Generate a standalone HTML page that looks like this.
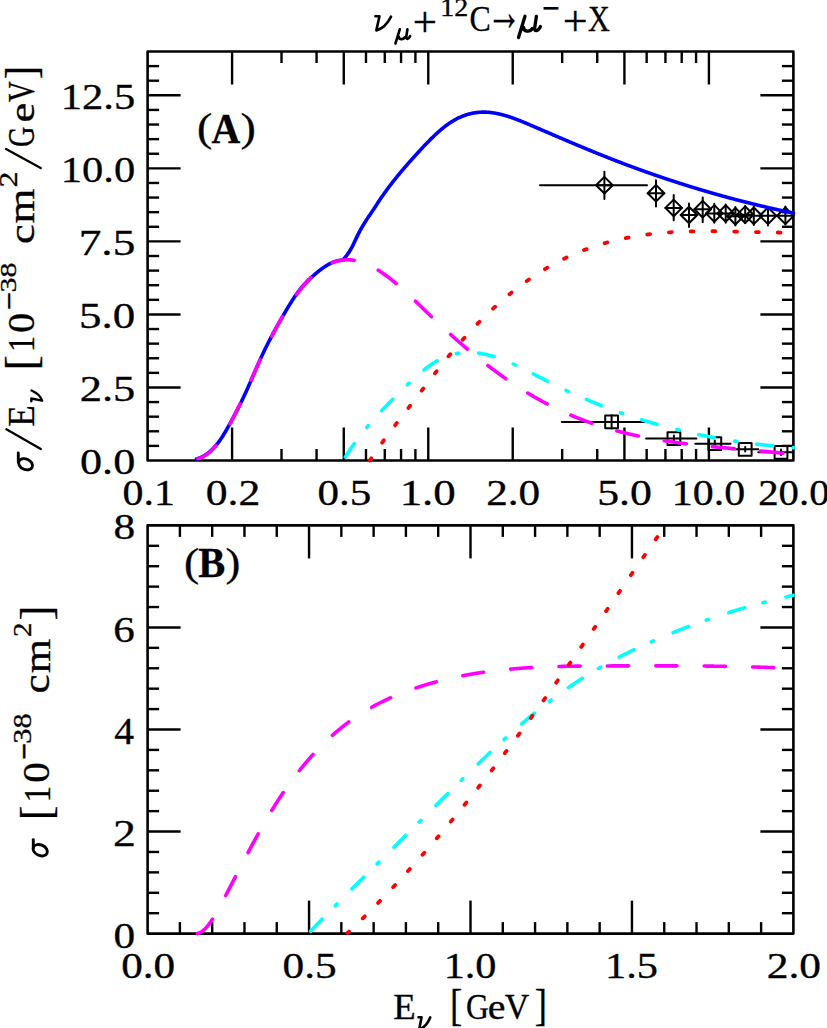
<!DOCTYPE html>
<html><head><meta charset="utf-8"><style>
html,body{margin:0;padding:0;background:#fff;}
body{width:827px;height:1028px;overflow:hidden;font-family:"Liberation Serif",serif;}
svg{display:block;}
text{font-kerning:none;stroke:#000;stroke-width:0.3px;}
</style></head><body>
<svg width="827" height="1028" viewBox="0 0 827 1028">
<rect width="827" height="1028" fill="#fff"/>
<line x1="232.09" y1="460.50" x2="232.09" y2="427.50" stroke="#000" stroke-width="2.40" stroke-linecap="butt"/>
<line x1="232.09" y1="51.50" x2="232.09" y2="84.50" stroke="#000" stroke-width="2.40" stroke-linecap="butt"/>
<line x1="281.51" y1="460.50" x2="281.51" y2="449.00" stroke="#000" stroke-width="2.40" stroke-linecap="butt"/>
<line x1="281.51" y1="51.50" x2="281.51" y2="63.00" stroke="#000" stroke-width="2.40" stroke-linecap="butt"/>
<line x1="316.57" y1="460.50" x2="316.57" y2="449.00" stroke="#000" stroke-width="2.40" stroke-linecap="butt"/>
<line x1="316.57" y1="51.50" x2="316.57" y2="63.00" stroke="#000" stroke-width="2.40" stroke-linecap="butt"/>
<line x1="343.77" y1="460.50" x2="343.77" y2="427.50" stroke="#000" stroke-width="2.40" stroke-linecap="butt"/>
<line x1="343.77" y1="51.50" x2="343.77" y2="84.50" stroke="#000" stroke-width="2.40" stroke-linecap="butt"/>
<line x1="365.99" y1="460.50" x2="365.99" y2="449.00" stroke="#000" stroke-width="2.40" stroke-linecap="butt"/>
<line x1="365.99" y1="51.50" x2="365.99" y2="63.00" stroke="#000" stroke-width="2.40" stroke-linecap="butt"/>
<line x1="384.78" y1="460.50" x2="384.78" y2="449.00" stroke="#000" stroke-width="2.40" stroke-linecap="butt"/>
<line x1="384.78" y1="51.50" x2="384.78" y2="63.00" stroke="#000" stroke-width="2.40" stroke-linecap="butt"/>
<line x1="401.06" y1="460.50" x2="401.06" y2="449.00" stroke="#000" stroke-width="2.40" stroke-linecap="butt"/>
<line x1="401.06" y1="51.50" x2="401.06" y2="63.00" stroke="#000" stroke-width="2.40" stroke-linecap="butt"/>
<line x1="415.41" y1="460.50" x2="415.41" y2="449.00" stroke="#000" stroke-width="2.40" stroke-linecap="butt"/>
<line x1="415.41" y1="51.50" x2="415.41" y2="63.00" stroke="#000" stroke-width="2.40" stroke-linecap="butt"/>
<line x1="428.26" y1="460.50" x2="428.26" y2="427.50" stroke="#000" stroke-width="2.40" stroke-linecap="butt"/>
<line x1="428.26" y1="51.50" x2="428.26" y2="84.50" stroke="#000" stroke-width="2.40" stroke-linecap="butt"/>
<line x1="512.74" y1="460.50" x2="512.74" y2="427.50" stroke="#000" stroke-width="2.40" stroke-linecap="butt"/>
<line x1="512.74" y1="51.50" x2="512.74" y2="84.50" stroke="#000" stroke-width="2.40" stroke-linecap="butt"/>
<line x1="562.16" y1="460.50" x2="562.16" y2="449.00" stroke="#000" stroke-width="2.40" stroke-linecap="butt"/>
<line x1="562.16" y1="51.50" x2="562.16" y2="63.00" stroke="#000" stroke-width="2.40" stroke-linecap="butt"/>
<line x1="597.23" y1="460.50" x2="597.23" y2="449.00" stroke="#000" stroke-width="2.40" stroke-linecap="butt"/>
<line x1="597.23" y1="51.50" x2="597.23" y2="63.00" stroke="#000" stroke-width="2.40" stroke-linecap="butt"/>
<line x1="624.43" y1="460.50" x2="624.43" y2="427.50" stroke="#000" stroke-width="2.40" stroke-linecap="butt"/>
<line x1="624.43" y1="51.50" x2="624.43" y2="84.50" stroke="#000" stroke-width="2.40" stroke-linecap="butt"/>
<line x1="646.65" y1="460.50" x2="646.65" y2="449.00" stroke="#000" stroke-width="2.40" stroke-linecap="butt"/>
<line x1="646.65" y1="51.50" x2="646.65" y2="63.00" stroke="#000" stroke-width="2.40" stroke-linecap="butt"/>
<line x1="665.44" y1="460.50" x2="665.44" y2="449.00" stroke="#000" stroke-width="2.40" stroke-linecap="butt"/>
<line x1="665.44" y1="51.50" x2="665.44" y2="63.00" stroke="#000" stroke-width="2.40" stroke-linecap="butt"/>
<line x1="681.72" y1="460.50" x2="681.72" y2="449.00" stroke="#000" stroke-width="2.40" stroke-linecap="butt"/>
<line x1="681.72" y1="51.50" x2="681.72" y2="63.00" stroke="#000" stroke-width="2.40" stroke-linecap="butt"/>
<line x1="696.07" y1="460.50" x2="696.07" y2="449.00" stroke="#000" stroke-width="2.40" stroke-linecap="butt"/>
<line x1="696.07" y1="51.50" x2="696.07" y2="63.00" stroke="#000" stroke-width="2.40" stroke-linecap="butt"/>
<line x1="708.91" y1="460.50" x2="708.91" y2="427.50" stroke="#000" stroke-width="2.40" stroke-linecap="butt"/>
<line x1="708.91" y1="51.50" x2="708.91" y2="84.50" stroke="#000" stroke-width="2.40" stroke-linecap="butt"/>
<line x1="147.60" y1="445.89" x2="159.10" y2="445.89" stroke="#000" stroke-width="2.40" stroke-linecap="butt"/>
<line x1="793.40" y1="445.89" x2="781.90" y2="445.89" stroke="#000" stroke-width="2.40" stroke-linecap="butt"/>
<line x1="147.60" y1="431.29" x2="159.10" y2="431.29" stroke="#000" stroke-width="2.40" stroke-linecap="butt"/>
<line x1="793.40" y1="431.29" x2="781.90" y2="431.29" stroke="#000" stroke-width="2.40" stroke-linecap="butt"/>
<line x1="147.60" y1="416.68" x2="159.10" y2="416.68" stroke="#000" stroke-width="2.40" stroke-linecap="butt"/>
<line x1="793.40" y1="416.68" x2="781.90" y2="416.68" stroke="#000" stroke-width="2.40" stroke-linecap="butt"/>
<line x1="147.60" y1="402.07" x2="159.10" y2="402.07" stroke="#000" stroke-width="2.40" stroke-linecap="butt"/>
<line x1="793.40" y1="402.07" x2="781.90" y2="402.07" stroke="#000" stroke-width="2.40" stroke-linecap="butt"/>
<line x1="147.60" y1="387.46" x2="180.60" y2="387.46" stroke="#000" stroke-width="2.40" stroke-linecap="butt"/>
<line x1="793.40" y1="387.46" x2="760.40" y2="387.46" stroke="#000" stroke-width="2.40" stroke-linecap="butt"/>
<line x1="147.60" y1="372.86" x2="159.10" y2="372.86" stroke="#000" stroke-width="2.40" stroke-linecap="butt"/>
<line x1="793.40" y1="372.86" x2="781.90" y2="372.86" stroke="#000" stroke-width="2.40" stroke-linecap="butt"/>
<line x1="147.60" y1="358.25" x2="159.10" y2="358.25" stroke="#000" stroke-width="2.40" stroke-linecap="butt"/>
<line x1="793.40" y1="358.25" x2="781.90" y2="358.25" stroke="#000" stroke-width="2.40" stroke-linecap="butt"/>
<line x1="147.60" y1="343.64" x2="159.10" y2="343.64" stroke="#000" stroke-width="2.40" stroke-linecap="butt"/>
<line x1="793.40" y1="343.64" x2="781.90" y2="343.64" stroke="#000" stroke-width="2.40" stroke-linecap="butt"/>
<line x1="147.60" y1="329.04" x2="159.10" y2="329.04" stroke="#000" stroke-width="2.40" stroke-linecap="butt"/>
<line x1="793.40" y1="329.04" x2="781.90" y2="329.04" stroke="#000" stroke-width="2.40" stroke-linecap="butt"/>
<line x1="147.60" y1="314.43" x2="180.60" y2="314.43" stroke="#000" stroke-width="2.40" stroke-linecap="butt"/>
<line x1="793.40" y1="314.43" x2="760.40" y2="314.43" stroke="#000" stroke-width="2.40" stroke-linecap="butt"/>
<line x1="147.60" y1="299.82" x2="159.10" y2="299.82" stroke="#000" stroke-width="2.40" stroke-linecap="butt"/>
<line x1="793.40" y1="299.82" x2="781.90" y2="299.82" stroke="#000" stroke-width="2.40" stroke-linecap="butt"/>
<line x1="147.60" y1="285.21" x2="159.10" y2="285.21" stroke="#000" stroke-width="2.40" stroke-linecap="butt"/>
<line x1="793.40" y1="285.21" x2="781.90" y2="285.21" stroke="#000" stroke-width="2.40" stroke-linecap="butt"/>
<line x1="147.60" y1="270.61" x2="159.10" y2="270.61" stroke="#000" stroke-width="2.40" stroke-linecap="butt"/>
<line x1="793.40" y1="270.61" x2="781.90" y2="270.61" stroke="#000" stroke-width="2.40" stroke-linecap="butt"/>
<line x1="147.60" y1="256.00" x2="159.10" y2="256.00" stroke="#000" stroke-width="2.40" stroke-linecap="butt"/>
<line x1="793.40" y1="256.00" x2="781.90" y2="256.00" stroke="#000" stroke-width="2.40" stroke-linecap="butt"/>
<line x1="147.60" y1="241.39" x2="180.60" y2="241.39" stroke="#000" stroke-width="2.40" stroke-linecap="butt"/>
<line x1="793.40" y1="241.39" x2="760.40" y2="241.39" stroke="#000" stroke-width="2.40" stroke-linecap="butt"/>
<line x1="147.60" y1="226.79" x2="159.10" y2="226.79" stroke="#000" stroke-width="2.40" stroke-linecap="butt"/>
<line x1="793.40" y1="226.79" x2="781.90" y2="226.79" stroke="#000" stroke-width="2.40" stroke-linecap="butt"/>
<line x1="147.60" y1="212.18" x2="159.10" y2="212.18" stroke="#000" stroke-width="2.40" stroke-linecap="butt"/>
<line x1="793.40" y1="212.18" x2="781.90" y2="212.18" stroke="#000" stroke-width="2.40" stroke-linecap="butt"/>
<line x1="147.60" y1="197.57" x2="159.10" y2="197.57" stroke="#000" stroke-width="2.40" stroke-linecap="butt"/>
<line x1="793.40" y1="197.57" x2="781.90" y2="197.57" stroke="#000" stroke-width="2.40" stroke-linecap="butt"/>
<line x1="147.60" y1="182.96" x2="159.10" y2="182.96" stroke="#000" stroke-width="2.40" stroke-linecap="butt"/>
<line x1="793.40" y1="182.96" x2="781.90" y2="182.96" stroke="#000" stroke-width="2.40" stroke-linecap="butt"/>
<line x1="147.60" y1="168.36" x2="180.60" y2="168.36" stroke="#000" stroke-width="2.40" stroke-linecap="butt"/>
<line x1="793.40" y1="168.36" x2="760.40" y2="168.36" stroke="#000" stroke-width="2.40" stroke-linecap="butt"/>
<line x1="147.60" y1="153.75" x2="159.10" y2="153.75" stroke="#000" stroke-width="2.40" stroke-linecap="butt"/>
<line x1="793.40" y1="153.75" x2="781.90" y2="153.75" stroke="#000" stroke-width="2.40" stroke-linecap="butt"/>
<line x1="147.60" y1="139.14" x2="159.10" y2="139.14" stroke="#000" stroke-width="2.40" stroke-linecap="butt"/>
<line x1="793.40" y1="139.14" x2="781.90" y2="139.14" stroke="#000" stroke-width="2.40" stroke-linecap="butt"/>
<line x1="147.60" y1="124.54" x2="159.10" y2="124.54" stroke="#000" stroke-width="2.40" stroke-linecap="butt"/>
<line x1="793.40" y1="124.54" x2="781.90" y2="124.54" stroke="#000" stroke-width="2.40" stroke-linecap="butt"/>
<line x1="147.60" y1="109.93" x2="159.10" y2="109.93" stroke="#000" stroke-width="2.40" stroke-linecap="butt"/>
<line x1="793.40" y1="109.93" x2="781.90" y2="109.93" stroke="#000" stroke-width="2.40" stroke-linecap="butt"/>
<line x1="147.60" y1="95.32" x2="180.60" y2="95.32" stroke="#000" stroke-width="2.40" stroke-linecap="butt"/>
<line x1="793.40" y1="95.32" x2="760.40" y2="95.32" stroke="#000" stroke-width="2.40" stroke-linecap="butt"/>
<line x1="147.60" y1="80.71" x2="159.10" y2="80.71" stroke="#000" stroke-width="2.40" stroke-linecap="butt"/>
<line x1="793.40" y1="80.71" x2="781.90" y2="80.71" stroke="#000" stroke-width="2.40" stroke-linecap="butt"/>
<line x1="147.60" y1="66.11" x2="159.10" y2="66.11" stroke="#000" stroke-width="2.40" stroke-linecap="butt"/>
<line x1="793.40" y1="66.11" x2="781.90" y2="66.11" stroke="#000" stroke-width="2.40" stroke-linecap="butt"/>
<rect x="147.60" y="51.50" width="645.80" height="409.00" fill="none" stroke="#000" stroke-width="2.60" stroke-linejoin="round"/>
<line x1="179.89" y1="933.60" x2="179.89" y2="922.10" stroke="#000" stroke-width="2.40" stroke-linecap="butt"/>
<line x1="179.89" y1="525.40" x2="179.89" y2="536.90" stroke="#000" stroke-width="2.40" stroke-linecap="butt"/>
<line x1="212.18" y1="933.60" x2="212.18" y2="922.10" stroke="#000" stroke-width="2.40" stroke-linecap="butt"/>
<line x1="212.18" y1="525.40" x2="212.18" y2="536.90" stroke="#000" stroke-width="2.40" stroke-linecap="butt"/>
<line x1="244.47" y1="933.60" x2="244.47" y2="922.10" stroke="#000" stroke-width="2.40" stroke-linecap="butt"/>
<line x1="244.47" y1="525.40" x2="244.47" y2="536.90" stroke="#000" stroke-width="2.40" stroke-linecap="butt"/>
<line x1="276.76" y1="933.60" x2="276.76" y2="922.10" stroke="#000" stroke-width="2.40" stroke-linecap="butt"/>
<line x1="276.76" y1="525.40" x2="276.76" y2="536.90" stroke="#000" stroke-width="2.40" stroke-linecap="butt"/>
<line x1="309.05" y1="933.60" x2="309.05" y2="900.60" stroke="#000" stroke-width="2.40" stroke-linecap="butt"/>
<line x1="309.05" y1="525.40" x2="309.05" y2="558.40" stroke="#000" stroke-width="2.40" stroke-linecap="butt"/>
<line x1="341.34" y1="933.60" x2="341.34" y2="922.10" stroke="#000" stroke-width="2.40" stroke-linecap="butt"/>
<line x1="341.34" y1="525.40" x2="341.34" y2="536.90" stroke="#000" stroke-width="2.40" stroke-linecap="butt"/>
<line x1="373.63" y1="933.60" x2="373.63" y2="922.10" stroke="#000" stroke-width="2.40" stroke-linecap="butt"/>
<line x1="373.63" y1="525.40" x2="373.63" y2="536.90" stroke="#000" stroke-width="2.40" stroke-linecap="butt"/>
<line x1="405.92" y1="933.60" x2="405.92" y2="922.10" stroke="#000" stroke-width="2.40" stroke-linecap="butt"/>
<line x1="405.92" y1="525.40" x2="405.92" y2="536.90" stroke="#000" stroke-width="2.40" stroke-linecap="butt"/>
<line x1="438.21" y1="933.60" x2="438.21" y2="922.10" stroke="#000" stroke-width="2.40" stroke-linecap="butt"/>
<line x1="438.21" y1="525.40" x2="438.21" y2="536.90" stroke="#000" stroke-width="2.40" stroke-linecap="butt"/>
<line x1="470.50" y1="933.60" x2="470.50" y2="900.60" stroke="#000" stroke-width="2.40" stroke-linecap="butt"/>
<line x1="470.50" y1="525.40" x2="470.50" y2="558.40" stroke="#000" stroke-width="2.40" stroke-linecap="butt"/>
<line x1="502.79" y1="933.60" x2="502.79" y2="922.10" stroke="#000" stroke-width="2.40" stroke-linecap="butt"/>
<line x1="502.79" y1="525.40" x2="502.79" y2="536.90" stroke="#000" stroke-width="2.40" stroke-linecap="butt"/>
<line x1="535.08" y1="933.60" x2="535.08" y2="922.10" stroke="#000" stroke-width="2.40" stroke-linecap="butt"/>
<line x1="535.08" y1="525.40" x2="535.08" y2="536.90" stroke="#000" stroke-width="2.40" stroke-linecap="butt"/>
<line x1="567.37" y1="933.60" x2="567.37" y2="922.10" stroke="#000" stroke-width="2.40" stroke-linecap="butt"/>
<line x1="567.37" y1="525.40" x2="567.37" y2="536.90" stroke="#000" stroke-width="2.40" stroke-linecap="butt"/>
<line x1="599.66" y1="933.60" x2="599.66" y2="922.10" stroke="#000" stroke-width="2.40" stroke-linecap="butt"/>
<line x1="599.66" y1="525.40" x2="599.66" y2="536.90" stroke="#000" stroke-width="2.40" stroke-linecap="butt"/>
<line x1="631.95" y1="933.60" x2="631.95" y2="900.60" stroke="#000" stroke-width="2.40" stroke-linecap="butt"/>
<line x1="631.95" y1="525.40" x2="631.95" y2="558.40" stroke="#000" stroke-width="2.40" stroke-linecap="butt"/>
<line x1="664.24" y1="933.60" x2="664.24" y2="922.10" stroke="#000" stroke-width="2.40" stroke-linecap="butt"/>
<line x1="664.24" y1="525.40" x2="664.24" y2="536.90" stroke="#000" stroke-width="2.40" stroke-linecap="butt"/>
<line x1="696.53" y1="933.60" x2="696.53" y2="922.10" stroke="#000" stroke-width="2.40" stroke-linecap="butt"/>
<line x1="696.53" y1="525.40" x2="696.53" y2="536.90" stroke="#000" stroke-width="2.40" stroke-linecap="butt"/>
<line x1="728.82" y1="933.60" x2="728.82" y2="922.10" stroke="#000" stroke-width="2.40" stroke-linecap="butt"/>
<line x1="728.82" y1="525.40" x2="728.82" y2="536.90" stroke="#000" stroke-width="2.40" stroke-linecap="butt"/>
<line x1="761.11" y1="933.60" x2="761.11" y2="922.10" stroke="#000" stroke-width="2.40" stroke-linecap="butt"/>
<line x1="761.11" y1="525.40" x2="761.11" y2="536.90" stroke="#000" stroke-width="2.40" stroke-linecap="butt"/>
<line x1="147.60" y1="913.19" x2="159.10" y2="913.19" stroke="#000" stroke-width="2.40" stroke-linecap="butt"/>
<line x1="793.40" y1="913.19" x2="781.90" y2="913.19" stroke="#000" stroke-width="2.40" stroke-linecap="butt"/>
<line x1="147.60" y1="892.78" x2="159.10" y2="892.78" stroke="#000" stroke-width="2.40" stroke-linecap="butt"/>
<line x1="793.40" y1="892.78" x2="781.90" y2="892.78" stroke="#000" stroke-width="2.40" stroke-linecap="butt"/>
<line x1="147.60" y1="872.37" x2="159.10" y2="872.37" stroke="#000" stroke-width="2.40" stroke-linecap="butt"/>
<line x1="793.40" y1="872.37" x2="781.90" y2="872.37" stroke="#000" stroke-width="2.40" stroke-linecap="butt"/>
<line x1="147.60" y1="851.96" x2="159.10" y2="851.96" stroke="#000" stroke-width="2.40" stroke-linecap="butt"/>
<line x1="793.40" y1="851.96" x2="781.90" y2="851.96" stroke="#000" stroke-width="2.40" stroke-linecap="butt"/>
<line x1="147.60" y1="831.55" x2="180.60" y2="831.55" stroke="#000" stroke-width="2.40" stroke-linecap="butt"/>
<line x1="793.40" y1="831.55" x2="760.40" y2="831.55" stroke="#000" stroke-width="2.40" stroke-linecap="butt"/>
<line x1="147.60" y1="811.14" x2="159.10" y2="811.14" stroke="#000" stroke-width="2.40" stroke-linecap="butt"/>
<line x1="793.40" y1="811.14" x2="781.90" y2="811.14" stroke="#000" stroke-width="2.40" stroke-linecap="butt"/>
<line x1="147.60" y1="790.73" x2="159.10" y2="790.73" stroke="#000" stroke-width="2.40" stroke-linecap="butt"/>
<line x1="793.40" y1="790.73" x2="781.90" y2="790.73" stroke="#000" stroke-width="2.40" stroke-linecap="butt"/>
<line x1="147.60" y1="770.32" x2="159.10" y2="770.32" stroke="#000" stroke-width="2.40" stroke-linecap="butt"/>
<line x1="793.40" y1="770.32" x2="781.90" y2="770.32" stroke="#000" stroke-width="2.40" stroke-linecap="butt"/>
<line x1="147.60" y1="749.91" x2="159.10" y2="749.91" stroke="#000" stroke-width="2.40" stroke-linecap="butt"/>
<line x1="793.40" y1="749.91" x2="781.90" y2="749.91" stroke="#000" stroke-width="2.40" stroke-linecap="butt"/>
<line x1="147.60" y1="729.50" x2="180.60" y2="729.50" stroke="#000" stroke-width="2.40" stroke-linecap="butt"/>
<line x1="793.40" y1="729.50" x2="760.40" y2="729.50" stroke="#000" stroke-width="2.40" stroke-linecap="butt"/>
<line x1="147.60" y1="709.09" x2="159.10" y2="709.09" stroke="#000" stroke-width="2.40" stroke-linecap="butt"/>
<line x1="793.40" y1="709.09" x2="781.90" y2="709.09" stroke="#000" stroke-width="2.40" stroke-linecap="butt"/>
<line x1="147.60" y1="688.68" x2="159.10" y2="688.68" stroke="#000" stroke-width="2.40" stroke-linecap="butt"/>
<line x1="793.40" y1="688.68" x2="781.90" y2="688.68" stroke="#000" stroke-width="2.40" stroke-linecap="butt"/>
<line x1="147.60" y1="668.27" x2="159.10" y2="668.27" stroke="#000" stroke-width="2.40" stroke-linecap="butt"/>
<line x1="793.40" y1="668.27" x2="781.90" y2="668.27" stroke="#000" stroke-width="2.40" stroke-linecap="butt"/>
<line x1="147.60" y1="647.86" x2="159.10" y2="647.86" stroke="#000" stroke-width="2.40" stroke-linecap="butt"/>
<line x1="793.40" y1="647.86" x2="781.90" y2="647.86" stroke="#000" stroke-width="2.40" stroke-linecap="butt"/>
<line x1="147.60" y1="627.45" x2="180.60" y2="627.45" stroke="#000" stroke-width="2.40" stroke-linecap="butt"/>
<line x1="793.40" y1="627.45" x2="760.40" y2="627.45" stroke="#000" stroke-width="2.40" stroke-linecap="butt"/>
<line x1="147.60" y1="607.04" x2="159.10" y2="607.04" stroke="#000" stroke-width="2.40" stroke-linecap="butt"/>
<line x1="793.40" y1="607.04" x2="781.90" y2="607.04" stroke="#000" stroke-width="2.40" stroke-linecap="butt"/>
<line x1="147.60" y1="586.63" x2="159.10" y2="586.63" stroke="#000" stroke-width="2.40" stroke-linecap="butt"/>
<line x1="793.40" y1="586.63" x2="781.90" y2="586.63" stroke="#000" stroke-width="2.40" stroke-linecap="butt"/>
<line x1="147.60" y1="566.22" x2="159.10" y2="566.22" stroke="#000" stroke-width="2.40" stroke-linecap="butt"/>
<line x1="793.40" y1="566.22" x2="781.90" y2="566.22" stroke="#000" stroke-width="2.40" stroke-linecap="butt"/>
<line x1="147.60" y1="545.81" x2="159.10" y2="545.81" stroke="#000" stroke-width="2.40" stroke-linecap="butt"/>
<line x1="793.40" y1="545.81" x2="781.90" y2="545.81" stroke="#000" stroke-width="2.40" stroke-linecap="butt"/>
<rect x="147.60" y="525.40" width="645.80" height="408.20" fill="none" stroke="#000" stroke-width="2.60" stroke-linejoin="round"/>
<path d="M596.10 185.20 L604.40 176.90 L612.70 185.20 L604.40 193.50 Z" fill="none" stroke="#000" stroke-width="2.00" stroke-linejoin="round"/>
<line x1="596.10" y1="185.20" x2="612.70" y2="185.20" stroke="#000" stroke-width="2.00" stroke-linecap="round"/>
<line x1="604.40" y1="171.80" x2="604.40" y2="199.00" stroke="#000" stroke-width="2.00" stroke-linecap="round"/>
<path d="M647.70 193.20 L656.00 184.90 L664.30 193.20 L656.00 201.50 Z" fill="none" stroke="#000" stroke-width="2.00" stroke-linejoin="round"/>
<line x1="647.70" y1="193.20" x2="664.30" y2="193.20" stroke="#000" stroke-width="2.00" stroke-linecap="round"/>
<line x1="656.00" y1="180.20" x2="656.00" y2="206.60" stroke="#000" stroke-width="2.00" stroke-linecap="round"/>
<path d="M665.40 207.90 L673.70 199.60 L682.00 207.90 L673.70 216.20 Z" fill="none" stroke="#000" stroke-width="2.00" stroke-linejoin="round"/>
<line x1="665.40" y1="207.90" x2="682.00" y2="207.90" stroke="#000" stroke-width="2.00" stroke-linecap="round"/>
<line x1="673.70" y1="195.00" x2="673.70" y2="220.30" stroke="#000" stroke-width="2.00" stroke-linecap="round"/>
<path d="M680.70 215.00 L689.00 206.70 L697.30 215.00 L689.00 223.30 Z" fill="none" stroke="#000" stroke-width="2.00" stroke-linejoin="round"/>
<line x1="680.70" y1="215.00" x2="697.30" y2="215.00" stroke="#000" stroke-width="2.00" stroke-linecap="round"/>
<line x1="689.00" y1="203.40" x2="689.00" y2="227.10" stroke="#000" stroke-width="2.00" stroke-linecap="round"/>
<path d="M694.40 209.20 L702.70 200.90 L711.00 209.20 L702.70 217.50 Z" fill="none" stroke="#000" stroke-width="2.00" stroke-linejoin="round"/>
<line x1="694.40" y1="209.20" x2="711.00" y2="209.20" stroke="#000" stroke-width="2.00" stroke-linecap="round"/>
<line x1="702.70" y1="197.60" x2="702.70" y2="222.20" stroke="#000" stroke-width="2.00" stroke-linecap="round"/>
<path d="M706.00 213.40 L714.30 205.10 L722.60 213.40 L714.30 221.70 Z" fill="none" stroke="#000" stroke-width="2.00" stroke-linejoin="round"/>
<line x1="706.00" y1="213.40" x2="722.60" y2="213.40" stroke="#000" stroke-width="2.00" stroke-linecap="round"/>
<line x1="714.30" y1="203.80" x2="714.30" y2="222.70" stroke="#000" stroke-width="2.00" stroke-linecap="round"/>
<path d="M717.40 213.50 L725.70 205.20 L734.00 213.50 L725.70 221.80 Z" fill="none" stroke="#000" stroke-width="2.00" stroke-linejoin="round"/>
<line x1="717.40" y1="213.50" x2="734.00" y2="213.50" stroke="#000" stroke-width="2.00" stroke-linecap="round"/>
<line x1="725.70" y1="204.40" x2="725.70" y2="222.70" stroke="#000" stroke-width="2.00" stroke-linecap="round"/>
<path d="M727.10 216.20 L735.40 207.90 L743.70 216.20 L735.40 224.50 Z" fill="none" stroke="#000" stroke-width="2.00" stroke-linejoin="round"/>
<line x1="727.10" y1="216.20" x2="743.70" y2="216.20" stroke="#000" stroke-width="2.00" stroke-linecap="round"/>
<line x1="735.40" y1="207.00" x2="735.40" y2="225.60" stroke="#000" stroke-width="2.00" stroke-linecap="round"/>
<path d="M736.90 214.70 L745.20 206.40 L753.50 214.70 L745.20 223.00 Z" fill="none" stroke="#000" stroke-width="2.00" stroke-linejoin="round"/>
<line x1="736.90" y1="214.70" x2="753.50" y2="214.70" stroke="#000" stroke-width="2.00" stroke-linecap="round"/>
<line x1="745.20" y1="206.00" x2="745.20" y2="223.30" stroke="#000" stroke-width="2.00" stroke-linecap="round"/>
<path d="M745.50 215.80 L753.80 207.50 L762.10 215.80 L753.80 224.10 Z" fill="none" stroke="#000" stroke-width="2.00" stroke-linejoin="round"/>
<line x1="745.50" y1="215.80" x2="762.10" y2="215.80" stroke="#000" stroke-width="2.00" stroke-linecap="round"/>
<line x1="753.80" y1="206.70" x2="753.80" y2="225.00" stroke="#000" stroke-width="2.00" stroke-linecap="round"/>
<path d="M759.70 215.80 L768.00 207.50 L776.30 215.80 L768.00 224.10 Z" fill="none" stroke="#000" stroke-width="2.00" stroke-linejoin="round"/>
<line x1="759.70" y1="215.80" x2="776.30" y2="215.80" stroke="#000" stroke-width="2.00" stroke-linecap="round"/>
<line x1="768.00" y1="207.50" x2="768.00" y2="225.60" stroke="#000" stroke-width="2.00" stroke-linecap="round"/>
<path d="M777.10 215.80 L785.40 207.50 L793.70 215.80 L785.40 224.10 Z" fill="none" stroke="#000" stroke-width="2.00" stroke-linejoin="round"/>
<line x1="777.10" y1="215.80" x2="793.70" y2="215.80" stroke="#000" stroke-width="2.00" stroke-linecap="round"/>
<line x1="785.40" y1="206.50" x2="785.40" y2="224.50" stroke="#000" stroke-width="2.00" stroke-linecap="round"/>
<line x1="540.00" y1="185.30" x2="647.00" y2="185.30" stroke="#000" stroke-width="2.00" stroke-linecap="round"/>
<rect x="605.20" y="415.50" width="12.80" height="12.80" fill="none" stroke="#000" stroke-width="2.00" stroke-linejoin="round"/>
<line x1="561.80" y1="421.90" x2="644.40" y2="421.90" stroke="#000" stroke-width="2.00" stroke-linecap="round"/>
<line x1="611.60" y1="415.30" x2="611.60" y2="428.50" stroke="#000" stroke-width="2.00" stroke-linecap="round"/>
<rect x="667.50" y="432.20" width="12.80" height="12.80" fill="none" stroke="#000" stroke-width="2.00" stroke-linejoin="round"/>
<line x1="646.10" y1="438.60" x2="696.40" y2="438.60" stroke="#000" stroke-width="2.00" stroke-linecap="round"/>
<line x1="673.90" y1="435.40" x2="673.90" y2="441.50" stroke="#000" stroke-width="2.00" stroke-linecap="round"/>
<rect x="708.40" y="437.30" width="12.80" height="12.80" fill="none" stroke="#000" stroke-width="2.00" stroke-linejoin="round"/>
<line x1="695.30" y1="443.70" x2="730.60" y2="443.70" stroke="#000" stroke-width="2.00" stroke-linecap="round"/>
<line x1="714.80" y1="440.50" x2="714.80" y2="446.50" stroke="#000" stroke-width="2.00" stroke-linecap="round"/>
<rect x="738.80" y="442.90" width="12.80" height="12.80" fill="none" stroke="#000" stroke-width="2.00" stroke-linejoin="round"/>
<line x1="731.00" y1="449.30" x2="758.30" y2="449.30" stroke="#000" stroke-width="2.00" stroke-linecap="round"/>
<line x1="745.20" y1="447.00" x2="745.20" y2="451.50" stroke="#000" stroke-width="2.00" stroke-linecap="round"/>
<rect x="774.60" y="445.90" width="12.80" height="12.80" fill="none" stroke="#000" stroke-width="2.00" stroke-linejoin="round"/>
<line x1="758.30" y1="452.30" x2="793.40" y2="452.30" stroke="#000" stroke-width="2.00" stroke-linecap="round"/>
<line x1="781.00" y1="449.50" x2="781.00" y2="455.00" stroke="#000" stroke-width="2.00" stroke-linecap="round"/>
<g>
<path d="M196.50 459.05 L197.00 458.89 L197.50 458.73 L198.00 458.56 L198.50 458.38 L199.00 458.19 L199.50 458.00 L200.00 457.79 L200.50 457.57 L201.00 457.35 L201.50 457.11 L202.00 456.86 L202.50 456.61 L203.00 456.34 L203.50 456.06 L204.00 455.78 L204.50 455.48 L205.00 455.17 L205.50 454.85 L206.00 454.52 L206.50 454.18 L207.00 453.82 L207.50 453.46 L208.00 453.08 L208.50 452.69 L209.00 452.29 L209.50 451.88 L210.00 451.46 L210.50 451.02 L211.00 450.57 L211.50 450.11 L212.00 449.64 L212.50 449.15 L213.00 448.65 L213.50 448.14 L214.00 447.61 L214.50 447.07 L215.00 446.51 L215.50 445.95 L216.00 445.37 L216.50 444.77 L217.00 444.16 L217.50 443.54 L218.00 442.90 L218.50 442.25 L219.00 441.58 L219.50 440.90 L220.00 440.20 L220.50 439.48 L221.00 438.76 L221.50 438.01 L222.00 437.25 L222.50 436.48 L223.00 435.69 L223.50 434.88 L224.00 434.06 L224.50 433.23 L225.00 432.38 L225.50 431.53 L226.00 430.66 L226.50 429.78 L227.00 428.90 L227.50 428.01 L228.00 427.11 L228.50 426.21 L229.00 425.31 L229.50 424.40 L230.00 423.49 L230.50 422.58 L231.00 421.66 L231.50 420.75 L232.00 419.82 L232.50 418.90 L233.00 417.97 L233.50 417.04 L234.00 416.10 L234.50 415.16 L235.00 414.21 L235.50 413.26 L236.00 412.30 L236.50 411.34 L237.00 410.38 L237.50 409.41 L238.00 408.43 L238.50 407.45 L239.00 406.46 L239.50 405.46 L240.00 404.46 L240.50 403.45 L241.00 402.44 L241.50 401.42 L242.00 400.39 L242.50 399.36 L243.00 398.31 L243.50 397.26 L244.00 396.20 L244.50 395.14 L245.00 394.06 L245.50 392.98 L246.00 391.89 L246.50 390.79 L247.00 389.68 L247.50 388.57 L248.00 387.45 L248.50 386.32 L249.00 385.19 L249.50 384.05 L250.00 382.90 L250.50 381.76 L251.00 380.61 L251.50 379.45 L252.00 378.30 L252.50 377.14 L253.00 375.98 L253.50 374.82 L254.00 373.66 L254.50 372.50 L255.00 371.35 L255.50 370.19 L256.00 369.04 L256.50 367.89 L257.00 366.74 L257.50 365.60 L258.00 364.47 L258.50 363.33 L259.00 362.21 L259.50 361.09 L260.00 359.98 L260.50 358.87 L261.00 357.78 L261.50 356.69 L262.00 355.61 L262.50 354.54 L263.00 353.48 L263.50 352.42 L264.00 351.37 L264.50 350.33 L265.00 349.30 L265.50 348.27 L266.00 347.25 L266.50 346.24 L267.00 345.24 L267.50 344.24 L268.00 343.25 L268.50 342.26 L269.00 341.28 L269.50 340.31 L270.00 339.34 L270.50 338.38 L271.00 337.42 L271.50 336.47 L272.00 335.53 L272.50 334.59 L273.00 333.65 L273.50 332.72 L274.00 331.80 L274.50 330.88 L275.00 329.96 L275.50 329.05 L276.00 328.14 L276.50 327.24 L277.00 326.34 L277.50 325.45 L278.00 324.56 L278.50 323.67 L279.00 322.79 L279.50 321.90 L280.00 321.03 L280.50 320.15 L281.00 319.28 L281.50 318.41 L282.00 317.55 L282.50 316.68 L283.00 315.82 L283.50 314.96 L284.00 314.11 L284.50 313.25 L285.00 312.40 L285.50 311.55 L286.00 310.70 L286.50 309.86 L287.00 309.02 L287.50 308.18 L288.00 307.35 L288.50 306.53 L289.00 305.71 L289.50 304.89 L290.00 304.08 L290.50 303.27 L291.00 302.47 L291.50 301.68 L292.00 300.90 L292.50 300.12 L293.00 299.35 L293.50 298.58 L294.00 297.83 L294.50 297.08 L295.00 296.34 L295.50 295.61 L296.00 294.89 L296.50 294.17 L297.00 293.47 L297.50 292.78 L298.00 292.10 L298.50 291.43 L299.00 290.77 L299.50 290.12 L300.00 289.48 L300.50 288.85 L301.00 288.24 L301.50 287.63 L302.00 287.04 L302.50 286.46 L303.00 285.88 L303.50 285.32 L304.00 284.77 L304.50 284.22 L305.00 283.69 L305.50 283.16 L306.00 282.64 L306.50 282.13 L307.00 281.62 L307.50 281.12 L308.00 280.63 L308.50 280.14 L309.00 279.66 L309.50 279.19 L310.00 278.71 L310.50 278.25 L311.00 277.79 L311.50 277.33 L312.00 276.88 L312.50 276.42 L313.00 275.98 L313.50 275.53 L314.00 275.09 L314.50 274.65 L315.00 274.22 L315.50 273.79 L316.00 273.36 L316.50 272.94 L317.00 272.52 L317.50 272.11 L318.00 271.70 L318.50 271.30 L319.00 270.90 L319.50 270.51 L320.00 270.12 L320.50 269.74 L321.00 269.36 L321.50 268.98 L322.00 268.62 L322.50 268.26 L323.00 267.90 L323.50 267.55 L324.00 267.21 L324.50 266.87 L325.00 266.54 L325.50 266.22 L326.00 265.90 L326.50 265.60 L327.00 265.29 L327.50 265.00 L328.00 264.71 L328.50 264.43 L329.00 264.16 L329.50 263.89 L330.00 263.63 L330.50 263.38 L331.00 263.14 L331.50 262.91 L332.00 262.69 L332.50 262.47 L333.00 262.26 L333.50 262.06 L334.00 261.87 L334.50 261.69 L335.00 261.52 L335.50 261.36 L336.00 261.21 L336.50 261.07 L337.00 260.93 L337.50 260.81 L338.00 260.70 L338.50 260.60 L339.00 260.50 L339.50 260.42 L340.00 260.35 L340.50 260.29 L341.00 260.24 L341.50 260.20 L342.00 260.17 L342.50 260.16 L343.00 260.15 L343.50 259.33 L344.00 258.73 L344.50 258.13 L345.00 257.52 L345.50 256.90 L346.00 256.27 L346.50 255.63 L347.00 254.97 L347.50 254.29 L348.00 253.59 L348.50 252.87 L349.00 252.13 L349.50 251.36 L350.00 250.57 L350.50 249.74 L351.00 248.88 L351.50 247.99 L352.00 247.07 L352.50 246.10 L353.00 245.10 L353.50 244.07 L354.00 243.02 L354.50 241.95 L355.00 240.88 L355.50 239.81 L356.00 238.74 L356.50 237.68 L357.00 236.64 L357.50 235.62 L358.00 234.61 L358.50 233.62 L359.00 232.65 L359.50 231.69 L360.00 230.75 L360.50 229.83 L361.00 228.93 L361.50 228.04 L362.00 227.17 L362.50 226.31 L363.00 225.47 L363.50 224.64 L364.00 223.83 L364.50 223.02 L365.00 222.22 L365.50 221.44 L366.00 220.66 L366.50 219.89 L367.00 219.13 L367.50 218.37 L368.00 217.62 L368.50 216.87 L369.00 216.13 L369.50 215.39 L370.00 214.65 L370.50 213.91 L371.00 213.18 L371.50 212.44 L372.00 211.70 L372.50 210.96 L373.00 210.21 L373.50 209.47 L374.00 208.71 L374.50 207.95 L375.00 207.19 L375.50 206.42 L376.00 205.65 L376.50 204.88 L377.00 204.11 L377.50 203.34 L378.00 202.58 L378.50 201.82 L379.00 201.07 L379.50 200.32 L380.00 199.57 L380.50 198.84 L381.00 198.10 L381.50 197.37 L382.00 196.65 L382.50 195.92 L383.00 195.21 L383.50 194.50 L384.00 193.79 L384.50 193.08 L385.00 192.38 L385.50 191.69 L386.00 191.00 L386.50 190.31 L387.00 189.63 L387.50 188.95 L388.00 188.27 L388.50 187.60 L389.00 186.93 L389.50 186.27 L390.00 185.60 L390.50 184.95 L391.00 184.29 L391.50 183.64 L392.00 183.00 L392.50 182.35 L393.00 181.71 L393.50 181.07 L394.00 180.44 L394.50 179.81 L395.00 179.18 L395.50 178.55 L396.00 177.93 L396.50 177.31 L397.00 176.70 L397.50 176.08 L398.00 175.47 L398.50 174.86 L399.00 174.26 L399.50 173.65 L400.00 173.05 L400.50 172.45 L401.00 171.86 L401.50 171.26 L402.00 170.67 L402.50 170.08 L403.00 169.49 L403.50 168.91 L404.00 168.33 L404.50 167.74 L405.00 167.16 L405.50 166.59 L406.00 166.01 L406.50 165.44 L407.00 164.86 L407.50 164.29 L408.00 163.72 L408.50 163.15 L409.00 162.59 L409.50 162.02 L410.00 161.46 L410.50 160.90 L411.00 160.33 L411.50 159.77 L412.00 159.21 L412.50 158.66 L413.00 158.10 L413.50 157.54 L414.00 156.99 L414.50 156.43 L415.00 155.88 L415.50 155.32 L416.00 154.77 L416.50 154.22 L417.00 153.67 L417.50 153.12 L418.00 152.57 L418.50 152.02 L419.00 151.48 L419.50 150.93 L420.00 150.39 L420.50 149.84 L421.00 149.30 L421.50 148.76 L422.00 148.23 L422.50 147.69 L423.00 147.15 L423.50 146.62 L424.00 146.09 L424.50 145.56 L425.00 145.03 L425.50 144.51 L426.00 143.99 L426.50 143.47 L427.00 142.95 L427.50 142.43 L428.00 141.92 L428.50 141.41 L429.00 140.90 L429.50 140.39 L430.00 139.89 L430.50 139.39 L431.00 138.89 L431.50 138.40 L432.00 137.91 L432.50 137.42 L433.00 136.94 L433.50 136.45 L434.00 135.98 L434.50 135.50 L435.00 135.03 L435.50 134.56 L436.00 134.10 L436.50 133.64 L437.00 133.18 L437.50 132.73 L438.00 132.28 L438.50 131.83 L439.00 131.39 L439.50 130.95 L440.00 130.52 L440.50 130.09 L441.00 129.67 L441.50 129.25 L442.00 128.83 L442.50 128.42 L443.00 128.01 L443.50 127.61 L444.00 127.21 L444.50 126.82 L445.00 126.43 L445.50 126.05 L446.00 125.67 L446.50 125.30 L447.00 124.93 L447.50 124.57 L448.00 124.21 L448.50 123.86 L449.00 123.51 L449.50 123.17 L450.00 122.84 L450.50 122.51 L451.00 122.18 L451.50 121.86 L452.00 121.55 L452.50 121.24 L453.00 120.94 L453.50 120.64 L454.00 120.35 L454.50 120.07 L455.00 119.79 L455.50 119.51 L456.00 119.24 L456.50 118.98 L457.00 118.72 L457.50 118.46 L458.00 118.22 L458.50 117.97 L459.00 117.73 L459.50 117.50 L460.00 117.27 L460.50 117.05 L461.00 116.83 L461.50 116.62 L462.00 116.42 L462.50 116.21 L463.00 116.02 L463.50 115.83 L464.00 115.64 L464.50 115.46 L465.00 115.28 L465.50 115.11 L466.00 114.94 L466.50 114.78 L467.00 114.63 L467.50 114.47 L468.00 114.33 L468.50 114.19 L469.00 114.05 L469.50 113.92 L470.00 113.79 L470.50 113.67 L471.00 113.55 L471.50 113.44 L472.00 113.33 L472.50 113.23 L473.00 113.13 L473.50 113.03 L474.00 112.95 L474.50 112.86 L475.00 112.78 L475.50 112.71 L476.00 112.64 L476.50 112.57 L477.00 112.51 L477.50 112.45 L478.00 112.40 L478.50 112.35 L479.00 112.31 L479.50 112.27 L480.00 112.24 L480.50 112.21 L481.00 112.18 L481.50 112.16 L482.00 112.15 L482.50 112.14 L483.00 112.13 L483.50 112.13 L484.00 112.13 L484.50 112.13 L485.00 112.14 L485.50 112.16 L486.00 112.17 L486.50 112.20 L487.00 112.22 L487.50 112.25 L488.00 112.29 L488.50 112.32 L489.00 112.37 L489.50 112.41 L490.00 112.46 L490.50 112.51 L491.00 112.57 L491.50 112.63 L492.00 112.70 L492.50 112.76 L493.00 112.83 L493.50 112.91 L494.00 112.99 L494.50 113.07 L495.00 113.15 L495.50 113.24 L496.00 113.33 L496.50 113.43 L497.00 113.53 L497.50 113.63 L498.00 113.73 L498.50 113.84 L499.00 113.95 L499.50 114.06 L500.00 114.18 L500.50 114.30 L501.00 114.42 L501.50 114.54 L502.00 114.67 L502.50 114.80 L503.00 114.93 L503.50 115.07 L504.00 115.21 L504.50 115.35 L505.00 115.49 L505.50 115.63 L506.00 115.78 L506.50 115.93 L507.00 116.08 L507.50 116.24 L508.00 116.40 L508.50 116.56 L509.00 116.72 L509.50 116.88 L510.00 117.05 L510.50 117.21 L511.00 117.38 L511.50 117.56 L512.00 117.73 L512.50 117.90 L513.00 118.08 L513.50 118.26 L514.00 118.44 L514.50 118.62 L515.00 118.81 L515.50 118.99 L516.00 119.18 L516.50 119.37 L517.00 119.56 L517.50 119.75 L518.00 119.95 L518.50 120.14 L519.00 120.34 L519.50 120.53 L520.00 120.73 L520.50 120.93 L521.00 121.13 L521.50 121.33 L522.00 121.54 L522.50 121.74 L523.00 121.94 L523.50 122.15 L524.00 122.36 L524.50 122.56 L525.00 122.77 L525.50 122.98 L526.00 123.19 L526.50 123.40 L527.00 123.61 L527.50 123.82 L528.00 124.04 L528.50 124.25 L529.00 124.46 L529.50 124.68 L530.00 124.89 L530.50 125.10 L531.00 125.32 L531.50 125.53 L532.00 125.75 L532.50 125.96 L533.00 126.18 L533.50 126.40 L534.00 126.61 L534.50 126.83 L535.00 127.04 L535.50 127.26 L536.00 127.47 L536.50 127.69 L537.00 127.90 L537.50 128.12 L538.00 128.34 L538.50 128.55 L539.00 128.77 L539.50 128.98 L540.00 129.20 L540.50 129.41 L541.00 129.63 L541.50 129.84 L542.00 130.06 L542.50 130.28 L543.00 130.49 L543.50 130.71 L544.00 130.92 L544.50 131.14 L545.00 131.35 L545.50 131.57 L546.00 131.78 L546.50 132.00 L547.00 132.21 L547.50 132.43 L548.00 132.64 L548.50 132.86 L549.00 133.07 L549.50 133.29 L550.00 133.50 L550.50 133.72 L551.00 133.93 L551.50 134.15 L552.00 134.36 L552.50 134.58 L553.00 134.79 L553.50 135.01 L554.00 135.22 L554.50 135.43 L555.00 135.65 L555.50 135.86 L556.00 136.08 L556.50 136.29 L557.00 136.50 L557.50 136.72 L558.00 136.93 L558.50 137.15 L559.00 137.36 L559.50 137.57 L560.00 137.79 L560.50 138.00 L561.00 138.21 L561.50 138.43 L562.00 138.64 L562.50 138.85 L563.00 139.07 L563.50 139.28 L564.00 139.49 L564.50 139.71 L565.00 139.92 L565.50 140.13 L566.00 140.34 L566.50 140.56 L567.00 140.77 L567.50 140.98 L568.00 141.19 L568.50 141.40 L569.00 141.62 L569.50 141.83 L570.00 142.04 L570.50 142.25 L571.00 142.46 L571.50 142.67 L572.00 142.88 L572.50 143.09 L573.00 143.31 L573.50 143.52 L574.00 143.73 L574.50 143.94 L575.00 144.15 L575.50 144.36 L576.00 144.57 L576.50 144.78 L577.00 144.99 L577.50 145.20 L578.00 145.41 L578.50 145.62 L579.00 145.82 L579.50 146.03 L580.00 146.24 L580.50 146.45 L581.00 146.66 L581.50 146.87 L582.00 147.08 L582.50 147.28 L583.00 147.49 L583.50 147.70 L584.00 147.91 L584.50 148.11 L585.00 148.32 L585.50 148.53 L586.00 148.74 L586.50 148.94 L587.00 149.15 L587.50 149.35 L588.00 149.56 L588.50 149.77 L589.00 149.97 L589.50 150.18 L590.00 150.38 L590.50 150.59 L591.00 150.79 L591.50 151.00 L592.00 151.20 L592.50 151.41 L593.00 151.61 L593.50 151.82 L594.00 152.02 L594.50 152.22 L595.00 152.43 L595.50 152.63 L596.00 152.83 L596.50 153.04 L597.00 153.24 L597.50 153.44 L598.00 153.64 L598.50 153.84 L599.00 154.05 L599.50 154.25 L600.00 154.45 L600.50 154.65 L601.00 154.85 L601.50 155.05 L602.00 155.25 L602.50 155.45 L603.00 155.65 L603.50 155.85 L604.00 156.05 L604.50 156.25 L605.00 156.45 L605.50 156.65 L606.00 156.85 L606.50 157.04 L607.00 157.24 L607.50 157.44 L608.00 157.64 L608.50 157.83 L609.00 158.03 L609.50 158.23 L610.00 158.42 L610.50 158.62 L611.00 158.82 L611.50 159.01 L612.00 159.21 L612.50 159.40 L613.00 159.60 L613.50 159.79 L614.00 159.99 L614.50 160.18 L615.00 160.37 L615.50 160.57 L616.00 160.76 L616.50 160.95 L617.00 161.15 L617.50 161.34 L618.00 161.53 L618.50 161.72 L619.00 161.91 L619.50 162.11 L620.00 162.30 L620.50 162.49 L621.00 162.68 L621.50 162.87 L622.00 163.06 L622.50 163.25 L623.00 163.44 L623.50 163.63 L624.00 163.82 L624.50 164.01 L625.00 164.19 L625.50 164.38 L626.00 164.57 L626.50 164.76 L627.00 164.95 L627.50 165.13 L628.00 165.32 L628.50 165.51 L629.00 165.69 L629.50 165.88 L630.00 166.07 L630.50 166.25 L631.00 166.44 L631.50 166.62 L632.00 166.81 L632.50 166.99 L633.00 167.18 L633.50 167.36 L634.00 167.54 L634.50 167.73 L635.00 167.91 L635.50 168.09 L636.00 168.28 L636.50 168.46 L637.00 168.64 L637.50 168.82 L638.00 169.00 L638.50 169.19 L639.00 169.37 L639.50 169.55 L640.00 169.73 L640.50 169.91 L641.00 170.09 L641.50 170.27 L642.00 170.45 L642.50 170.63 L643.00 170.81 L643.50 170.99 L644.00 171.17 L644.50 171.34 L645.00 171.52 L645.50 171.70 L646.00 171.88 L646.50 172.05 L647.00 172.23 L647.50 172.41 L648.00 172.58 L648.50 172.76 L649.00 172.94 L649.50 173.11 L650.00 173.29 L650.50 173.46 L651.00 173.64 L651.50 173.81 L652.00 173.99 L652.50 174.16 L653.00 174.34 L653.50 174.51 L654.00 174.68 L654.50 174.86 L655.00 175.03 L655.50 175.20 L656.00 175.37 L656.50 175.55 L657.00 175.72 L657.50 175.89 L658.00 176.06 L658.50 176.23 L659.00 176.40 L659.50 176.57 L660.00 176.74 L660.50 176.91 L661.00 177.08 L661.50 177.25 L662.00 177.42 L662.50 177.59 L663.00 177.76 L663.50 177.93 L664.00 178.10 L664.50 178.27 L665.00 178.43 L665.50 178.60 L666.00 178.77 L666.50 178.93 L667.00 179.10 L667.50 179.27 L668.00 179.43 L668.50 179.60 L669.00 179.77 L669.50 179.93 L670.00 180.10 L670.50 180.26 L671.00 180.43 L671.50 180.59 L672.00 180.75 L672.50 180.92 L673.00 181.08 L673.50 181.24 L674.00 181.41 L674.50 181.57 L675.00 181.73 L675.50 181.90 L676.00 182.06 L676.50 182.22 L677.00 182.38 L677.50 182.54 L678.00 182.70 L678.50 182.86 L679.00 183.02 L679.50 183.18 L680.00 183.34 L680.50 183.50 L681.00 183.66 L681.50 183.82 L682.00 183.98 L682.50 184.14 L683.00 184.30 L683.50 184.46 L684.00 184.61 L684.50 184.77 L685.00 184.93 L685.50 185.09 L686.00 185.24 L686.50 185.40 L687.00 185.56 L687.50 185.71 L688.00 185.87 L688.50 186.02 L689.00 186.18 L689.50 186.34 L690.00 186.49 L690.50 186.64 L691.00 186.80 L691.50 186.95 L692.00 187.11 L692.50 187.26 L693.00 187.41 L693.50 187.57 L694.00 187.72 L694.50 187.87 L695.00 188.02 L695.50 188.18 L696.00 188.33 L696.50 188.48 L697.00 188.63 L697.50 188.78 L698.00 188.93 L698.50 189.08 L699.00 189.23 L699.50 189.38 L700.00 189.53 L700.50 189.68 L701.00 189.83 L701.50 189.98 L702.00 190.13 L702.50 190.28 L703.00 190.43 L703.50 190.57 L704.00 190.72 L704.50 190.87 L705.00 191.02 L705.50 191.16 L706.00 191.31 L706.50 191.46 L707.00 191.60 L707.50 191.75 L708.00 191.89 L708.50 192.04 L709.00 192.18 L709.50 192.33 L710.00 192.47 L710.50 192.62 L711.00 192.76 L711.50 192.91 L712.00 193.05 L712.50 193.19 L713.00 193.34 L713.50 193.48 L714.00 193.62 L714.50 193.76 L715.00 193.91 L715.50 194.05 L716.00 194.19 L716.50 194.33 L717.00 194.47 L717.50 194.61 L718.00 194.75 L718.50 194.89 L719.00 195.03 L719.50 195.17 L720.00 195.31 L720.50 195.45 L721.00 195.59 L721.50 195.73 L722.00 195.87 L722.50 196.01 L723.00 196.14 L723.50 196.28 L724.00 196.42 L724.50 196.56 L725.00 196.69 L725.50 196.83 L726.00 196.97 L726.50 197.10 L727.00 197.24 L727.50 197.38 L728.00 197.51 L728.50 197.65 L729.00 197.78 L729.50 197.92 L730.00 198.05 L730.50 198.18 L731.00 198.32 L731.50 198.45 L732.00 198.59 L732.50 198.72 L733.00 198.85 L733.50 198.98 L734.00 199.12 L734.50 199.25 L735.00 199.38 L735.50 199.51 L736.00 199.64 L736.50 199.77 L737.00 199.91 L737.50 200.04 L738.00 200.17 L738.50 200.30 L739.00 200.43 L739.50 200.56 L740.00 200.69 L740.50 200.82 L741.00 200.94 L741.50 201.07 L742.00 201.20 L742.50 201.33 L743.00 201.46 L743.50 201.58 L744.00 201.71 L744.50 201.84 L745.00 201.97 L745.50 202.09 L746.00 202.22 L746.50 202.35 L747.00 202.47 L747.50 202.60 L748.00 202.72 L748.50 202.85 L749.00 202.97 L749.50 203.10 L750.00 203.22 L750.50 203.35 L751.00 203.47 L751.50 203.59 L752.00 203.72 L752.50 203.84 L753.00 203.96 L753.50 204.08 L754.00 204.21 L754.50 204.33 L755.00 204.45 L755.50 204.57 L756.00 204.69 L756.50 204.82 L757.00 204.94 L757.50 205.06 L758.00 205.18 L758.50 205.30 L759.00 205.42 L759.50 205.54 L760.00 205.66 L760.50 205.77 L761.00 205.89 L761.50 206.01 L762.00 206.13 L762.50 206.25 L763.00 206.37 L763.50 206.48 L764.00 206.60 L764.50 206.72 L765.00 206.84 L765.50 206.95 L766.00 207.07 L766.50 207.18 L767.00 207.30 L767.50 207.42 L768.00 207.53 L768.50 207.65 L769.00 207.76 L769.50 207.88 L770.00 207.99 L770.50 208.10 L771.00 208.22 L771.50 208.33 L772.00 208.44 L772.50 208.56 L773.00 208.67 L773.50 208.78 L774.00 208.90 L774.50 209.01 L775.00 209.12 L775.50 209.23 L776.00 209.34 L776.50 209.45 L777.00 209.56 L777.50 209.68 L778.00 209.79 L778.50 209.90 L779.00 210.01 L779.50 210.11 L780.00 210.22 L780.50 210.33 L781.00 210.44 L781.50 210.55 L782.00 210.66 L782.50 210.77 L783.00 210.88 L783.50 210.98 L784.00 211.09 L784.50 211.20 L785.00 211.30 L785.50 211.41 L786.00 211.52 L786.50 211.62 L787.00 211.73 L787.50 211.83 L788.00 211.94 L788.50 212.05 L789.00 212.15 L789.50 212.25 L790.00 212.36 L790.50 212.46 L791.00 212.57 L791.50 212.67 L792.00 212.77 L792.50 212.88 L793.00 212.98 L793.40 213.06" fill="none" stroke="#0000ff" stroke-width="3.60" stroke-linecap="round" stroke-linejoin="round"/>
<path d="M196.50 458.71 L197.00 458.66 L197.50 458.59 L198.00 458.51 L198.50 458.41 L199.00 458.29 L199.50 458.16 L200.00 458.01 L200.50 457.84 L201.00 457.66 L201.50 457.46 L202.00 457.25 L202.50 457.02 L203.00 456.78 L203.50 456.52 L204.00 456.25 L204.50 455.96 L205.00 455.66 L205.50 455.34 L206.00 455.00 L206.50 454.66 L207.00 454.29 L207.50 453.92 L208.00 453.52 L208.50 453.12 L209.00 452.70 L209.50 452.27 L210.00 451.82 L210.50 451.36 L211.00 450.88 L211.50 450.40 L212.00 449.89 L212.50 449.38 L213.00 448.85 L213.50 448.31 L214.00 447.76 L214.50 447.19 L215.00 446.61 L215.50 446.02 L216.00 445.41 L216.50 444.80 L217.00 444.17 L217.50 443.53 L218.00 442.87 L218.50 442.21 L219.00 441.53 L219.50 440.84 L220.00 440.14 L220.50 439.43 L221.00 438.70 L221.50 437.97 L222.00 437.22 L222.50 436.46 L223.00 435.69 L223.50 434.91 L224.00 434.12 L224.50 433.32 L225.00 432.51 L225.50 431.69 L226.00 430.86 L226.50 430.02 L227.00 429.16 L227.50 428.30 L228.00 427.43 L228.50 426.55 L229.00 425.65 L229.50 424.75 L230.00 423.84 L230.50 422.92 L231.00 421.99 L231.50 421.06 L232.00 420.11 L232.50 419.16 L233.00 418.19 L233.50 417.22 L234.00 416.25 L234.50 415.26 L235.00 414.27 L235.50 413.27 L236.00 412.27 L236.50 411.25 L237.00 410.24 L237.50 409.21 L238.00 408.18 L238.50 407.14 L239.00 406.10 L239.50 405.06 L240.00 404.00 L240.50 402.95 L241.00 401.89 L241.50 400.82 L242.00 399.75 L242.50 398.68 L243.00 397.60 L243.50 396.52 L244.00 395.44 L244.50 394.35 L245.00 393.26 L245.50 392.17 L246.00 391.07 L246.50 389.97 L247.00 388.87 L247.50 387.77 L248.00 386.67 L248.50 385.57 L249.00 384.46 L249.50 383.36 L250.00 382.25 L250.50 381.14 L251.00 380.04 L251.50 378.93 L252.00 377.82 L252.50 376.72 L253.00 375.61 L253.50 374.50 L254.00 373.40 L254.50 372.30 L255.00 371.20 L255.50 370.10 L256.00 369.00 L256.50 367.90 L257.00 366.81 L257.50 365.72 L258.00 364.63 L258.50 363.54 L259.00 362.46 L259.50 361.38 L260.00 360.31 L260.50 359.24 L261.00 358.17 L261.50 357.11 L262.00 356.05 L262.50 355.00 L263.00 353.95 L263.50 352.90 L264.00 351.86 L264.50 350.82 L265.00 349.79 L265.50 348.76 L266.00 347.74 L266.50 346.72 L267.00 345.70 L267.50 344.69 L268.00 343.68 L268.50 342.68 L269.00 341.68 L269.50 340.69 L270.00 339.70 L270.50 338.72 L271.00 337.74 L271.50 336.77 L272.00 335.80 L272.50 334.84 L273.00 333.88 L273.50 332.92 L274.00 331.97 L274.50 331.03 L275.00 330.09 L275.50 329.15 L276.00 328.23 L276.50 327.30 L277.00 326.38 L277.50 325.47 L278.00 324.56 L278.50 323.65 L279.00 322.76 L279.50 321.86 L280.00 320.97 L280.50 320.09 L281.00 319.21 L281.50 318.34 L282.00 317.47 L282.50 316.61 L283.00 315.76 L283.50 314.91 L284.00 314.06 L284.50 313.22 L285.00 312.39 L285.50 311.56 L286.00 310.74 L286.50 309.92 L287.00 309.11 L287.50 308.30 L288.00 307.51 L288.50 306.71 L289.00 305.92 L289.50 305.14 L290.00 304.37 L290.50 303.59 L291.00 302.83 L291.50 302.07 L292.00 301.32 L292.50 300.57 L293.00 299.83 L293.50 299.10 L294.00 298.37 L294.50 297.65 L295.00 296.93 L295.50 296.22 L296.00 295.52 L296.50 294.82 L297.00 294.13 L297.50 293.45 L298.00 292.77 L298.50 292.10 L299.00 291.43 L299.50 290.78 L300.00 290.12 L300.50 289.48 L301.00 288.84 L301.50 288.21 L302.00 287.58 L302.50 286.96 L303.00 286.35 L303.50 285.74 L304.00 285.15 L304.50 284.55 L305.00 283.97 L305.50 283.39 L306.00 282.82 L306.50 282.25 L307.00 281.70 L307.50 281.15 L308.00 280.60 L308.50 280.07 L309.00 279.54 L309.50 279.01 L310.00 278.50 L310.50 277.99 L311.00 277.49 L311.50 276.99 L312.00 276.51 L312.50 276.03 L313.00 275.56 L313.50 275.09 L314.00 274.63 L314.50 274.18 L315.00 273.74 L315.50 273.30 L316.00 272.87 L316.50 272.45 L317.00 272.04 L317.50 271.63 L318.00 271.23 L318.50 270.84 L319.00 270.45 L319.50 270.07 L320.00 269.70 L320.50 269.34 L321.00 268.98 L321.50 268.63 L322.00 268.28 L322.50 267.95 L323.00 267.62 L323.50 267.30 L324.00 266.98 L324.50 266.67 L325.00 266.37 L325.50 266.08 L326.00 265.79 L326.50 265.51 L327.00 265.23 L327.50 264.97 L328.00 264.70 L328.50 264.45 L329.00 264.20 L329.50 263.96 L330.00 263.73 L330.50 263.51 L331.00 263.29 L331.50 263.07 L332.00 262.87 L332.50 262.67 L333.00 262.48 L333.50 262.29 L334.00 262.11 L334.50 261.94 L335.00 261.77 L335.50 261.61 L336.00 261.46 L336.50 261.32 L337.00 261.18 L337.50 261.04 L338.00 260.92 L338.50 260.80 L339.00 260.69 L339.50 260.58 L340.00 260.48 L340.50 260.39 L341.00 260.30 L341.50 260.22 L342.00 260.15 L342.50 260.08 L343.00 260.02 L343.50 259.96 L344.00 259.92 L344.50 259.88 L345.00 259.84 L345.50 259.81 L346.00 259.79 L346.50 259.77 L347.00 259.76 L347.50 259.76 L348.00 259.76 L348.50 259.77 L349.00 259.79 L349.50 259.81 L350.00 259.84 L350.50 259.87 L351.00 259.91 L351.50 259.96 L352.00 260.01 L352.50 260.07 L353.00 260.14 L353.50 260.21 L354.00 260.28 L354.50 260.37 L355.00 260.45 L355.50 260.55 L356.00 260.65 L356.50 260.75 L357.00 260.86 L357.50 260.98 L358.00 261.10 L358.50 261.23 L359.00 261.36 L359.50 261.50 L360.00 261.64 L360.50 261.79 L361.00 261.95 L361.50 262.10 L362.00 262.27 L362.50 262.44 L363.00 262.61 L363.50 262.79 L364.00 262.98 L364.50 263.17 L365.00 263.36 L365.50 263.56 L366.00 263.77 L366.50 263.98 L367.00 264.19 L367.50 264.41 L368.00 264.64 L368.50 264.86 L369.00 265.10 L369.50 265.33 L370.00 265.58 L370.50 265.82 L371.00 266.07 L371.50 266.33 L372.00 266.59 L372.50 266.85 L373.00 267.12 L373.50 267.40 L374.00 267.67 L374.50 267.95 L375.00 268.24 L375.50 268.53 L376.00 268.82 L376.50 269.12 L377.00 269.42 L377.50 269.73 L378.00 270.03 L378.50 270.35 L379.00 270.66 L379.50 270.98 L380.00 271.31 L380.50 271.64 L381.00 271.97 L381.50 272.30 L382.00 272.64 L382.50 272.98 L383.00 273.33 L383.50 273.68 L384.00 274.03 L384.50 274.38 L385.00 274.74 L385.50 275.11 L386.00 275.47 L386.50 275.84 L387.00 276.21 L387.50 276.59 L388.00 276.96 L388.50 277.34 L389.00 277.73 L389.50 278.11 L390.00 278.50 L390.50 278.89 L391.00 279.29 L391.50 279.69 L392.00 280.09 L392.50 280.49 L393.00 280.90 L393.50 281.30 L394.00 281.72 L394.50 282.13 L395.00 282.54 L395.50 282.96 L396.00 283.38 L396.50 283.81 L397.00 284.23 L397.50 284.66 L398.00 285.09 L398.50 285.52 L399.00 285.95 L399.50 286.39 L400.00 286.83 L400.50 287.27 L401.00 287.71 L401.50 288.15 L402.00 288.60 L402.50 289.04 L403.00 289.49 L403.50 289.94 L404.00 290.40 L404.50 290.85 L405.00 291.31 L405.50 291.76 L406.00 292.22 L406.50 292.68 L407.00 293.14 L407.50 293.61 L408.00 294.07 L408.50 294.54 L409.00 295.00 L409.50 295.47 L410.00 295.94 L410.50 296.41 L411.00 296.89 L411.50 297.36 L412.00 297.83 L412.50 298.31 L413.00 298.78 L413.50 299.26 L414.00 299.74 L414.50 300.22 L415.00 300.69 L415.50 301.17 L416.00 301.66 L416.50 302.14 L417.00 302.62 L417.50 303.10 L418.00 303.58 L418.50 304.07 L419.00 304.55 L419.50 305.04 L420.00 305.52 L420.50 306.00 L421.00 306.49 L421.50 306.98 L422.00 307.46 L422.50 307.95 L423.00 308.43 L423.50 308.92 L424.00 309.40 L424.50 309.89 L425.00 310.38 L425.50 310.86 L426.00 311.35 L426.50 311.83 L427.00 312.32 L427.50 312.80 L428.00 313.29 L428.50 313.77 L429.00 314.26 L429.50 314.74 L430.00 315.22 L430.50 315.70 L431.00 316.19 L431.50 316.67 L432.00 317.15 L432.50 317.63 L433.00 318.11 L433.50 318.59 L434.00 319.06 L434.50 319.54 L435.00 320.02 L435.50 320.49 L436.00 320.97 L436.50 321.44 L437.00 321.91 L437.50 322.38 L438.00 322.85 L438.50 323.32 L439.00 323.79 L439.50 324.26 L440.00 324.73 L440.50 325.20 L441.00 325.66 L441.50 326.13 L442.00 326.59 L442.50 327.06 L443.00 327.52 L443.50 327.98 L444.00 328.44 L444.50 328.90 L445.00 329.36 L445.50 329.82 L446.00 330.28 L446.50 330.74 L447.00 331.19 L447.50 331.65 L448.00 332.11 L448.50 332.56 L449.00 333.01 L449.50 333.46 L450.00 333.92 L450.50 334.37 L451.00 334.82 L451.50 335.26 L452.00 335.71 L452.50 336.16 L453.00 336.61 L453.50 337.05 L454.00 337.50 L454.50 337.94 L455.00 338.38 L455.50 338.82 L456.00 339.26 L456.50 339.70 L457.00 340.14 L457.50 340.58 L458.00 341.02 L458.50 341.46 L459.00 341.89 L459.50 342.33 L460.00 342.76 L460.50 343.20 L461.00 343.63 L461.50 344.06 L462.00 344.49 L462.50 344.92 L463.00 345.35 L463.50 345.78 L464.00 346.20 L464.50 346.63 L465.00 347.06 L465.50 347.48 L466.00 347.90 L466.50 348.33 L467.00 348.75 L467.50 349.17 L468.00 349.59 L468.50 350.01 L469.00 350.43 L469.50 350.84 L470.00 351.26 L470.50 351.68 L471.00 352.09 L471.50 352.51 L472.00 352.92 L472.50 353.33 L473.00 353.74 L473.50 354.15 L474.00 354.56 L474.50 354.97 L475.00 355.38 L475.50 355.78 L476.00 356.19 L476.50 356.59 L477.00 357.00 L477.50 357.40 L478.00 357.80 L478.50 358.20 L479.00 358.60 L479.50 359.00 L480.00 359.40 L480.50 359.80 L481.00 360.20 L481.50 360.59 L482.00 360.99 L482.50 361.38 L483.00 361.77 L483.50 362.16 L484.00 362.55 L484.50 362.94 L485.00 363.33 L485.50 363.72 L486.00 364.11 L486.50 364.49 L487.00 364.88 L487.50 365.26 L488.00 365.65 L488.50 366.03 L489.00 366.41 L489.50 366.79 L490.00 367.17 L490.50 367.55 L491.00 367.93 L491.50 368.30 L492.00 368.68 L492.50 369.06 L493.00 369.43 L493.50 369.80 L494.00 370.17 L494.50 370.54 L495.00 370.91 L495.50 371.28 L496.00 371.65 L496.50 372.02 L497.00 372.39 L497.50 372.75 L498.00 373.11 L498.50 373.48 L499.00 373.84 L499.50 374.20 L500.00 374.56 L500.50 374.92 L501.00 375.28 L501.50 375.64 L502.00 375.99 L502.50 376.35 L503.00 376.70 L503.50 377.06 L504.00 377.41 L504.50 377.76 L505.00 378.11 L505.50 378.46 L506.00 378.81 L506.50 379.16 L507.00 379.50 L507.50 379.85 L508.00 380.19 L508.50 380.54 L509.00 380.88 L509.50 381.22 L510.00 381.56 L510.50 381.90 L511.00 382.24 L511.50 382.58 L512.00 382.91 L512.50 383.25 L513.00 383.58 L513.50 383.92 L514.00 384.25 L514.50 384.58 L515.00 384.91 L515.50 385.24 L516.00 385.57 L516.50 385.90 L517.00 386.22 L517.50 386.55 L518.00 386.87 L518.50 387.19 L519.00 387.52 L519.50 387.84 L520.00 388.16 L520.50 388.48 L521.00 388.80 L521.50 389.11 L522.00 389.43 L522.50 389.74 L523.00 390.06 L523.50 390.37 L524.00 390.68 L524.50 390.99 L525.00 391.30 L525.50 391.61 L526.00 391.92 L526.50 392.23 L527.00 392.53 L527.50 392.84 L528.00 393.14 L528.50 393.44 L529.00 393.74 L529.50 394.04 L530.00 394.34 L530.50 394.64 L531.00 394.94 L531.50 395.23 L532.00 395.53 L532.50 395.82 L533.00 396.12 L533.50 396.41 L534.00 396.70 L534.50 396.99 L535.00 397.28 L535.50 397.57 L536.00 397.85 L536.50 398.14 L537.00 398.42 L537.50 398.71 L538.00 398.99 L538.50 399.27 L539.00 399.55 L539.50 399.83 L540.00 400.11 L540.50 400.38 L541.00 400.66 L541.50 400.93 L542.00 401.21 L542.50 401.48 L543.00 401.75 L543.50 402.02 L544.00 402.29 L544.50 402.56 L545.00 402.82 L545.50 403.09 L546.00 403.35 L546.50 403.62 L547.00 403.88 L547.50 404.14 L548.00 404.40 L548.50 404.66 L549.00 404.92 L549.50 405.18 L550.00 405.43 L550.50 405.69 L551.00 405.94 L551.50 406.19 L552.00 406.45 L552.50 406.70 L553.00 406.95 L553.50 407.19 L554.00 407.44 L554.50 407.69 L555.00 407.93 L555.50 408.18 L556.00 408.42 L556.50 408.66 L557.00 408.90 L557.50 409.14 L558.00 409.38 L558.50 409.62 L559.00 409.85 L559.50 410.09 L560.00 410.32 L560.50 410.56 L561.00 410.79 L561.50 411.02 L562.00 411.25 L562.50 411.48 L563.00 411.71 L563.50 411.94 L564.00 412.16 L564.50 412.39 L565.00 412.61 L565.50 412.83 L566.00 413.06 L566.50 413.28 L567.00 413.50 L567.50 413.72 L568.00 413.94 L568.50 414.15 L569.00 414.37 L569.50 414.58 L570.00 414.80 L570.50 415.01 L571.00 415.22 L571.50 415.43 L572.00 415.64 L572.50 415.85 L573.00 416.06 L573.50 416.27 L574.00 416.47 L574.50 416.68 L575.00 416.88 L575.50 417.09 L576.00 417.29 L576.50 417.49 L577.00 417.69 L577.50 417.89 L578.00 418.09 L578.50 418.29 L579.00 418.49 L579.50 418.68 L580.00 418.88 L580.50 419.07 L581.00 419.26 L581.50 419.45 L582.00 419.65 L582.50 419.84 L583.00 420.03 L583.50 420.21 L584.00 420.40 L584.50 420.59 L585.00 420.77 L585.50 420.96 L586.00 421.14 L586.50 421.33 L587.00 421.51 L587.50 421.69 L588.00 421.87 L588.50 422.05 L589.00 422.23 L589.50 422.41 L590.00 422.58 L590.50 422.76 L591.00 422.93 L591.50 423.11 L592.00 423.28 L592.50 423.45 L593.00 423.62 L593.50 423.80 L594.00 423.97 L594.50 424.13 L595.00 424.30 L595.50 424.47 L596.00 424.64 L596.50 424.80 L597.00 424.97 L597.50 425.13 L598.00 425.29 L598.50 425.46 L599.00 425.62 L599.50 425.78 L600.00 425.94 L600.50 426.10 L601.00 426.26 L601.50 426.41 L602.00 426.57 L602.50 426.73 L603.00 426.88 L603.50 427.04 L604.00 427.19 L604.50 427.34 L605.00 427.49 L605.50 427.65 L606.00 427.80 L606.50 427.95 L607.00 428.09 L607.50 428.24 L608.00 428.39 L608.50 428.54 L609.00 428.68 L609.50 428.83 L610.00 428.97 L610.50 429.11 L611.00 429.26 L611.50 429.40 L612.00 429.54 L612.50 429.68 L613.00 429.82 L613.50 429.96 L614.00 430.10 L614.50 430.23 L615.00 430.37 L615.50 430.51 L616.00 430.64 L616.50 430.78 L617.00 430.91 L617.50 431.04 L618.00 431.18 L618.50 431.31 L619.00 431.44 L619.50 431.57 L620.00 431.70 L620.50 431.83 L621.00 431.96 L621.50 432.08 L622.00 432.21 L622.50 432.34 L623.00 432.46 L623.50 432.59 L624.00 432.71 L624.50 432.83 L625.00 432.96 L625.50 433.08 L626.00 433.20 L626.50 433.32 L627.00 433.44 L627.50 433.56 L628.00 433.68 L628.50 433.80 L629.00 433.91 L629.50 434.03 L630.00 434.15 L630.50 434.26 L631.00 434.38 L631.50 434.49 L632.00 434.61 L632.50 434.72 L633.00 434.83 L633.50 434.94 L634.00 435.05 L634.50 435.16 L635.00 435.27 L635.50 435.38 L636.00 435.49 L636.50 435.60 L637.00 435.71 L637.50 435.81 L638.00 435.92 L638.50 436.03 L639.00 436.13 L639.50 436.24 L640.00 436.34 L640.50 436.44 L641.00 436.54 L641.50 436.65 L642.00 436.75 L642.50 436.85 L643.00 436.95 L643.50 437.05 L644.00 437.15 L644.50 437.25 L645.00 437.35 L645.50 437.44 L646.00 437.54 L646.50 437.64 L647.00 437.73 L647.50 437.83 L648.00 437.92 L648.50 438.02 L649.00 438.11 L649.50 438.20 L650.00 438.30 L650.50 438.39 L651.00 438.48 L651.50 438.57 L652.00 438.66 L652.50 438.75 L653.00 438.84 L653.50 438.93 L654.00 439.02 L654.50 439.11 L655.00 439.19 L655.50 439.28 L656.00 439.37 L656.50 439.45 L657.00 439.54 L657.50 439.62 L658.00 439.71 L658.50 439.79 L659.00 439.88 L659.50 439.96 L660.00 440.04 L660.50 440.13 L661.00 440.21 L661.50 440.29 L662.00 440.37 L662.50 440.45 L663.00 440.53 L663.50 440.61 L664.00 440.69 L664.50 440.77 L665.00 440.84 L665.50 440.92 L666.00 441.00 L666.50 441.08 L667.00 441.15 L667.50 441.23 L668.00 441.30 L668.50 441.38 L669.00 441.45 L669.50 441.53 L670.00 441.60 L670.50 441.67 L671.00 441.75 L671.50 441.82 L672.00 441.89 L672.50 441.96 L673.00 442.04 L673.50 442.11 L674.00 442.18 L674.50 442.25 L675.00 442.32 L675.50 442.39 L676.00 442.46 L676.50 442.52 L677.00 442.59 L677.50 442.66 L678.00 442.73 L678.50 442.80 L679.00 442.86 L679.50 442.93 L680.00 442.99 L680.50 443.06 L681.00 443.13 L681.50 443.19 L682.00 443.26 L682.50 443.32 L683.00 443.38 L683.50 443.45 L684.00 443.51 L684.50 443.57 L685.00 443.64 L685.50 443.70 L686.00 443.76 L686.50 443.82 L687.00 443.88 L687.50 443.95 L688.00 444.01 L688.50 444.07 L689.00 444.13 L689.50 444.19 L690.00 444.25 L690.50 444.31 L691.00 444.36 L691.50 444.42 L692.00 444.48 L692.50 444.54 L693.00 444.60 L693.50 444.65 L694.00 444.71 L694.50 444.77 L695.00 444.83 L695.50 444.88 L696.00 444.94 L696.50 444.99 L697.00 445.05 L697.50 445.10 L698.00 445.16 L698.50 445.21 L699.00 445.27 L699.50 445.32 L700.00 445.38 L700.50 445.43 L701.00 445.49 L701.50 445.54 L702.00 445.59 L702.50 445.65 L703.00 445.70 L703.50 445.75 L704.00 445.80 L704.50 445.85 L705.00 445.91 L705.50 445.96 L706.00 446.01 L706.50 446.06 L707.00 446.11 L707.50 446.16 L708.00 446.21 L708.50 446.26 L709.00 446.31 L709.50 446.36 L710.00 446.41 L710.50 446.46 L711.00 446.51 L711.50 446.56 L712.00 446.61 L712.50 446.66 L713.00 446.71 L713.50 446.76 L714.00 446.81 L714.50 446.86 L715.00 446.90 L715.50 446.95 L716.00 447.00 L716.50 447.05 L717.00 447.09 L717.50 447.14 L718.00 447.19 L718.50 447.24 L719.00 447.28 L719.50 447.33 L720.00 447.38 L720.50 447.42 L721.00 447.47 L721.50 447.52 L722.00 447.56 L722.50 447.61 L723.00 447.66 L723.50 447.70 L724.00 447.75 L724.50 447.79 L725.00 447.84 L725.50 447.88 L726.00 447.93 L726.50 447.97 L727.00 448.02 L727.50 448.07 L728.00 448.11 L728.50 448.16 L729.00 448.20 L729.50 448.25 L730.00 448.29 L730.50 448.33 L731.00 448.38 L731.50 448.42 L732.00 448.47 L732.50 448.51 L733.00 448.56 L733.50 448.60 L734.00 448.65 L734.50 448.69 L735.00 448.73 L735.50 448.78 L736.00 448.82 L736.50 448.87 L737.00 448.91 L737.50 448.96 L738.00 449.00 L738.50 449.04 L739.00 449.09 L739.50 449.13 L740.00 449.18 L740.50 449.22 L741.00 449.26 L741.50 449.31 L742.00 449.35 L742.50 449.40 L743.00 449.44 L743.50 449.48 L744.00 449.53 L744.50 449.57 L745.00 449.62 L745.50 449.66 L746.00 449.70 L746.50 449.75 L747.00 449.79 L747.50 449.84 L748.00 449.88 L748.50 449.92 L749.00 449.97 L749.50 450.01 L750.00 450.06 L750.50 450.10 L751.00 450.15 L751.50 450.19 L752.00 450.24 L752.50 450.28 L753.00 450.32 L753.50 450.37 L754.00 450.41 L754.50 450.46 L755.00 450.50 L755.50 450.55 L756.00 450.59 L756.50 450.64 L757.00 450.68 L757.50 450.73 L758.00 450.78 L758.50 450.82 L759.00 450.87 L759.50 450.91 L760.00 450.96 L760.50 451.00 L761.00 451.05 L761.50 451.10 L762.00 451.14 L762.50 451.19 L763.00 451.24 L763.50 451.28 L764.00 451.33 L764.50 451.38 L765.00 451.42 L765.50 451.47 L766.00 451.52 L766.50 451.56 L767.00 451.61 L767.50 451.66 L768.00 451.71 L768.50 451.76 L769.00 451.80 L769.50 451.85 L770.00 451.90 L770.50 451.95 L771.00 452.00 L771.50 452.05 L772.00 452.10 L772.50 452.15 L773.00 452.19 L773.50 452.24 L774.00 452.29 L774.50 452.34 L775.00 452.39 L775.50 452.44 L776.00 452.50 L776.50 452.55 L777.00 452.60 L777.50 452.65 L778.00 452.70 L778.50 452.75 L779.00 452.80 L779.50 452.86 L780.00 452.91 L780.50 452.96 L781.00 453.01 L781.50 453.07 L782.00 453.12 L782.50 453.17 L783.00 453.23 L783.50 453.28 L784.00 453.33 L784.50 453.39 L785.00 453.44 L785.50 453.50 L786.00 453.55 L786.50 453.61 L787.00 453.66 L787.50 453.72 L788.00 453.78 L788.50 453.83 L789.00 453.89 L789.50 453.95 L790.00 454.00 L790.50 454.06 L791.00 454.12 L791.50 454.18 L792.00 454.23 L792.50 454.29 L793.00 454.35 L793.40 454.40" fill="none" stroke="#ff00ff" stroke-width="3.60" stroke-linecap="round" stroke-linejoin="round" stroke-dasharray="22.3 26.2" stroke-dashoffset="-1.50"/>
<path d="M343.50 460.10 L344.00 459.28 L344.50 458.46 L345.00 457.65 L345.50 456.85 L346.00 456.05 L346.50 455.26 L347.00 454.47 L347.50 453.69 L348.00 452.92 L348.50 452.15 L349.00 451.38 L349.50 450.62 L350.00 449.87 L350.50 449.12 L351.00 448.38 L351.50 447.65 L352.00 446.91 L352.50 446.19 L353.00 445.47 L353.50 444.75 L354.00 444.04 L354.50 443.33 L355.00 442.63 L355.50 441.94 L356.00 441.24 L356.50 440.56 L357.00 439.88 L357.50 439.20 L358.00 438.52 L358.50 437.86 L359.00 437.19 L359.50 436.53 L360.00 435.88 L360.50 435.22 L361.00 434.58 L361.50 433.93 L362.00 433.29 L362.50 432.66 L363.00 432.03 L363.50 431.40 L364.00 430.77 L364.50 430.15 L365.00 429.54 L365.50 428.93 L366.00 428.32 L366.50 427.71 L367.00 427.11 L367.50 426.51 L368.00 425.91 L368.50 425.32 L369.00 424.73 L369.50 424.14 L370.00 423.56 L370.50 422.98 L371.00 422.40 L371.50 421.83 L372.00 421.26 L372.50 420.69 L373.00 420.12 L373.50 419.56 L374.00 419.00 L374.50 418.44 L375.00 417.89 L375.50 417.33 L376.00 416.78 L376.50 416.23 L377.00 415.69 L377.50 415.14 L378.00 414.60 L378.50 414.06 L379.00 413.52 L379.50 412.98 L380.00 412.45 L380.50 411.92 L381.00 411.39 L381.50 410.86 L382.00 410.33 L382.50 409.80 L383.00 409.28 L383.50 408.76 L384.00 408.23 L384.50 407.71 L385.00 407.20 L385.50 406.68 L386.00 406.16 L386.50 405.64 L387.00 405.13 L387.50 404.62 L388.00 404.10 L388.50 403.59 L389.00 403.08 L389.50 402.57 L390.00 402.06 L390.50 401.55 L391.00 401.04 L391.50 400.54 L392.00 400.03 L392.50 399.52 L393.00 399.01 L393.50 398.51 L394.00 398.00 L394.50 397.49 L395.00 396.99 L395.50 396.48 L396.00 395.98 L396.50 395.47 L397.00 394.97 L397.50 394.46 L398.00 393.96 L398.50 393.45 L399.00 392.95 L399.50 392.45 L400.00 391.95 L400.50 391.45 L401.00 390.95 L401.50 390.45 L402.00 389.96 L402.50 389.46 L403.00 388.96 L403.50 388.47 L404.00 387.98 L404.50 387.49 L405.00 387.00 L405.50 386.51 L406.00 386.02 L406.50 385.54 L407.00 385.05 L407.50 384.57 L408.00 384.09 L408.50 383.61 L409.00 383.13 L409.50 382.66 L410.00 382.18 L410.50 381.71 L411.00 381.24 L411.50 380.77 L412.00 380.31 L412.50 379.84 L413.00 379.38 L413.50 378.93 L414.00 378.47 L414.50 378.01 L415.00 377.56 L415.50 377.11 L416.00 376.67 L416.50 376.22 L417.00 375.78 L417.50 375.34 L418.00 374.91 L418.50 374.48 L419.00 374.05 L419.50 373.62 L420.00 373.19 L420.50 372.77 L421.00 372.36 L421.50 371.94 L422.00 371.53 L422.50 371.12 L423.00 370.72 L423.50 370.31 L424.00 369.92 L424.50 369.52 L425.00 369.13 L425.50 368.74 L426.00 368.36 L426.50 367.98 L427.00 367.60 L427.50 367.23 L428.00 366.86 L428.50 366.50 L429.00 366.14 L429.50 365.78 L430.00 365.43 L430.50 365.08 L431.00 364.74 L431.50 364.40 L432.00 364.06 L432.50 363.73 L433.00 363.41 L433.50 363.08 L434.00 362.77 L434.50 362.45 L435.00 362.15 L435.50 361.84 L436.00 361.54 L436.50 361.25 L437.00 360.96 L437.50 360.68 L438.00 360.40 L438.50 360.12 L439.00 359.86 L439.50 359.59 L440.00 359.33 L440.50 359.08 L441.00 358.83 L441.50 358.59 L442.00 358.35 L442.50 358.12 L443.00 357.89 L443.50 357.67 L444.00 357.45 L444.50 357.24 L445.00 357.03 L445.50 356.83 L446.00 356.63 L446.50 356.44 L447.00 356.25 L447.50 356.07 L448.00 355.89 L448.50 355.72 L449.00 355.55 L449.50 355.39 L450.00 355.23 L450.50 355.07 L451.00 354.92 L451.50 354.78 L452.00 354.64 L452.50 354.50 L453.00 354.37 L453.50 354.25 L454.00 354.12 L454.50 354.01 L455.00 353.89 L455.50 353.78 L456.00 353.68 L456.50 353.58 L457.00 353.48 L457.50 353.39 L458.00 353.30 L458.50 353.22 L459.00 353.14 L459.50 353.07 L460.00 353.00 L460.50 352.93 L461.00 352.87 L461.50 352.81 L462.00 352.76 L462.50 352.71 L463.00 352.66 L463.50 352.62 L464.00 352.58 L464.50 352.55 L465.00 352.52 L465.50 352.49 L466.00 352.47 L466.50 352.45 L467.00 352.44 L467.50 352.43 L468.00 352.42 L468.50 352.42 L469.00 352.42 L469.50 352.42 L470.00 352.43 L470.50 352.44 L471.00 352.46 L471.50 352.48 L472.00 352.50 L472.50 352.53 L473.00 352.56 L473.50 352.59 L474.00 352.63 L474.50 352.67 L475.00 352.71 L475.50 352.76 L476.00 352.80 L476.50 352.86 L477.00 352.91 L477.50 352.97 L478.00 353.04 L478.50 353.10 L479.00 353.17 L479.50 353.25 L480.00 353.32 L480.50 353.40 L481.00 353.48 L481.50 353.57 L482.00 353.65 L482.50 353.75 L483.00 353.84 L483.50 353.94 L484.00 354.04 L484.50 354.14 L485.00 354.24 L485.50 354.35 L486.00 354.46 L486.50 354.58 L487.00 354.69 L487.50 354.81 L488.00 354.94 L488.50 355.06 L489.00 355.19 L489.50 355.32 L490.00 355.45 L490.50 355.59 L491.00 355.72 L491.50 355.87 L492.00 356.01 L492.50 356.15 L493.00 356.30 L493.50 356.45 L494.00 356.60 L494.50 356.76 L495.00 356.92 L495.50 357.08 L496.00 357.24 L496.50 357.40 L497.00 357.57 L497.50 357.74 L498.00 357.91 L498.50 358.08 L499.00 358.26 L499.50 358.43 L500.00 358.61 L500.50 358.79 L501.00 358.98 L501.50 359.16 L502.00 359.35 L502.50 359.54 L503.00 359.73 L503.50 359.92 L504.00 360.12 L504.50 360.32 L505.00 360.51 L505.50 360.72 L506.00 360.92 L506.50 361.12 L507.00 361.33 L507.50 361.53 L508.00 361.74 L508.50 361.95 L509.00 362.17 L509.50 362.38 L510.00 362.60 L510.50 362.81 L511.00 363.03 L511.50 363.25 L512.00 363.47 L512.50 363.69 L513.00 363.92 L513.50 364.14 L514.00 364.37 L514.50 364.60 L515.00 364.83 L515.50 365.06 L516.00 365.29 L516.50 365.52 L517.00 365.76 L517.50 365.99 L518.00 366.23 L518.50 366.47 L519.00 366.71 L519.50 366.95 L520.00 367.19 L520.50 367.43 L521.00 367.67 L521.50 367.91 L522.00 368.16 L522.50 368.40 L523.00 368.65 L523.50 368.90 L524.00 369.15 L524.50 369.40 L525.00 369.64 L525.50 369.89 L526.00 370.15 L526.50 370.40 L527.00 370.65 L527.50 370.90 L528.00 371.16 L528.50 371.41 L529.00 371.66 L529.50 371.92 L530.00 372.18 L530.50 372.43 L531.00 372.69 L531.50 372.95 L532.00 373.20 L532.50 373.46 L533.00 373.72 L533.50 373.98 L534.00 374.24 L534.50 374.49 L535.00 374.75 L535.50 375.01 L536.00 375.27 L536.50 375.53 L537.00 375.79 L537.50 376.05 L538.00 376.31 L538.50 376.57 L539.00 376.83 L539.50 377.09 L540.00 377.35 L540.50 377.61 L541.00 377.87 L541.50 378.13 L542.00 378.39 L542.50 378.65 L543.00 378.91 L543.50 379.17 L544.00 379.43 L544.50 379.69 L545.00 379.94 L545.50 380.20 L546.00 380.46 L546.50 380.72 L547.00 380.97 L547.50 381.23 L548.00 381.49 L548.50 381.74 L549.00 382.00 L549.50 382.25 L550.00 382.50 L550.50 382.76 L551.00 383.01 L551.50 383.26 L552.00 383.51 L552.50 383.76 L553.00 384.01 L553.50 384.26 L554.00 384.51 L554.50 384.76 L555.00 385.01 L555.50 385.26 L556.00 385.50 L556.50 385.75 L557.00 386.00 L557.50 386.24 L558.00 386.49 L558.50 386.73 L559.00 386.97 L559.50 387.22 L560.00 387.46 L560.50 387.70 L561.00 387.94 L561.50 388.18 L562.00 388.42 L562.50 388.66 L563.00 388.90 L563.50 389.14 L564.00 389.38 L564.50 389.61 L565.00 389.85 L565.50 390.08 L566.00 390.32 L566.50 390.56 L567.00 390.79 L567.50 391.02 L568.00 391.26 L568.50 391.49 L569.00 391.72 L569.50 391.95 L570.00 392.18 L570.50 392.41 L571.00 392.64 L571.50 392.87 L572.00 393.10 L572.50 393.33 L573.00 393.56 L573.50 393.78 L574.00 394.01 L574.50 394.24 L575.00 394.46 L575.50 394.69 L576.00 394.91 L576.50 395.13 L577.00 395.36 L577.50 395.58 L578.00 395.80 L578.50 396.02 L579.00 396.24 L579.50 396.46 L580.00 396.68 L580.50 396.90 L581.00 397.12 L581.50 397.34 L582.00 397.56 L582.50 397.78 L583.00 397.99 L583.50 398.21 L584.00 398.42 L584.50 398.64 L585.00 398.85 L585.50 399.07 L586.00 399.28 L586.50 399.49 L587.00 399.70 L587.50 399.92 L588.00 400.13 L588.50 400.34 L589.00 400.55 L589.50 400.76 L590.00 400.97 L590.50 401.17 L591.00 401.38 L591.50 401.59 L592.00 401.80 L592.50 402.00 L593.00 402.21 L593.50 402.41 L594.00 402.62 L594.50 402.82 L595.00 403.03 L595.50 403.23 L596.00 403.43 L596.50 403.63 L597.00 403.83 L597.50 404.04 L598.00 404.24 L598.50 404.44 L599.00 404.64 L599.50 404.83 L600.00 405.03 L600.50 405.23 L601.00 405.43 L601.50 405.62 L602.00 405.82 L602.50 406.02 L603.00 406.21 L603.50 406.41 L604.00 406.60 L604.50 406.79 L605.00 406.99 L605.50 407.18 L606.00 407.37 L606.50 407.56 L607.00 407.75 L607.50 407.94 L608.00 408.13 L608.50 408.32 L609.00 408.51 L609.50 408.70 L610.00 408.89 L610.50 409.08 L611.00 409.26 L611.50 409.45 L612.00 409.63 L612.50 409.82 L613.00 410.00 L613.50 410.19 L614.00 410.37 L614.50 410.56 L615.00 410.74 L615.50 410.92 L616.00 411.10 L616.50 411.28 L617.00 411.46 L617.50 411.64 L618.00 411.82 L618.50 412.00 L619.00 412.18 L619.50 412.36 L620.00 412.54 L620.50 412.71 L621.00 412.89 L621.50 413.07 L622.00 413.24 L622.50 413.42 L623.00 413.59 L623.50 413.77 L624.00 413.94 L624.50 414.11 L625.00 414.29 L625.50 414.46 L626.00 414.63 L626.50 414.80 L627.00 414.97 L627.50 415.14 L628.00 415.31 L628.50 415.48 L629.00 415.65 L629.50 415.82 L630.00 415.99 L630.50 416.15 L631.00 416.32 L631.50 416.49 L632.00 416.65 L632.50 416.82 L633.00 416.98 L633.50 417.15 L634.00 417.31 L634.50 417.47 L635.00 417.64 L635.50 417.80 L636.00 417.96 L636.50 418.12 L637.00 418.28 L637.50 418.44 L638.00 418.60 L638.50 418.76 L639.00 418.92 L639.50 419.08 L640.00 419.24 L640.50 419.39 L641.00 419.55 L641.50 419.71 L642.00 419.86 L642.50 420.02 L643.00 420.17 L643.50 420.33 L644.00 420.48 L644.50 420.64 L645.00 420.79 L645.50 420.94 L646.00 421.09 L646.50 421.25 L647.00 421.40 L647.50 421.55 L648.00 421.70 L648.50 421.85 L649.00 422.00 L649.50 422.15 L650.00 422.29 L650.50 422.44 L651.00 422.59 L651.50 422.74 L652.00 422.88 L652.50 423.03 L653.00 423.17 L653.50 423.32 L654.00 423.46 L654.50 423.61 L655.00 423.75 L655.50 423.89 L656.00 424.04 L656.50 424.18 L657.00 424.32 L657.50 424.46 L658.00 424.60 L658.50 424.74 L659.00 424.88 L659.50 425.02 L660.00 425.16 L660.50 425.30 L661.00 425.44 L661.50 425.58 L662.00 425.71 L662.50 425.85 L663.00 425.99 L663.50 426.12 L664.00 426.26 L664.50 426.39 L665.00 426.53 L665.50 426.66 L666.00 426.80 L666.50 426.93 L667.00 427.06 L667.50 427.19 L668.00 427.33 L668.50 427.46 L669.00 427.59 L669.50 427.72 L670.00 427.85 L670.50 427.98 L671.00 428.11 L671.50 428.24 L672.00 428.36 L672.50 428.49 L673.00 428.62 L673.50 428.75 L674.00 428.87 L674.50 429.00 L675.00 429.12 L675.50 429.25 L676.00 429.37 L676.50 429.50 L677.00 429.62 L677.50 429.75 L678.00 429.87 L678.50 429.99 L679.00 430.11 L679.50 430.23 L680.00 430.36 L680.50 430.48 L681.00 430.60 L681.50 430.72 L682.00 430.84 L682.50 430.95 L683.00 431.07 L683.50 431.19 L684.00 431.31 L684.50 431.43 L685.00 431.54 L685.50 431.66 L686.00 431.77 L686.50 431.89 L687.00 432.01 L687.50 432.12 L688.00 432.23 L688.50 432.35 L689.00 432.46 L689.50 432.57 L690.00 432.69 L690.50 432.80 L691.00 432.91 L691.50 433.02 L692.00 433.13 L692.50 433.24 L693.00 433.35 L693.50 433.46 L694.00 433.57 L694.50 433.68 L695.00 433.79 L695.50 433.90 L696.00 434.00 L696.50 434.11 L697.00 434.22 L697.50 434.32 L698.00 434.43 L698.50 434.53 L699.00 434.64 L699.50 434.74 L700.00 434.85 L700.50 434.95 L701.00 435.05 L701.50 435.16 L702.00 435.26 L702.50 435.36 L703.00 435.46 L703.50 435.56 L704.00 435.67 L704.50 435.77 L705.00 435.87 L705.50 435.97 L706.00 436.06 L706.50 436.16 L707.00 436.26 L707.50 436.36 L708.00 436.46 L708.50 436.55 L709.00 436.65 L709.50 436.75 L710.00 436.84 L710.50 436.94 L711.00 437.03 L711.50 437.13 L712.00 437.22 L712.50 437.32 L713.00 437.41 L713.50 437.50 L714.00 437.60 L714.50 437.69 L715.00 437.78 L715.50 437.87 L716.00 437.96 L716.50 438.05 L717.00 438.14 L717.50 438.23 L718.00 438.32 L718.50 438.41 L719.00 438.50 L719.50 438.59 L720.00 438.68 L720.50 438.76 L721.00 438.85 L721.50 438.94 L722.00 439.02 L722.50 439.11 L723.00 439.20 L723.50 439.28 L724.00 439.37 L724.50 439.45 L725.00 439.53 L725.50 439.62 L726.00 439.70 L726.50 439.78 L727.00 439.87 L727.50 439.95 L728.00 440.03 L728.50 440.11 L729.00 440.19 L729.50 440.27 L730.00 440.35 L730.50 440.43 L731.00 440.51 L731.50 440.59 L732.00 440.67 L732.50 440.75 L733.00 440.83 L733.50 440.90 L734.00 440.98 L734.50 441.06 L735.00 441.13 L735.50 441.21 L736.00 441.29 L736.50 441.36 L737.00 441.44 L737.50 441.51 L738.00 441.58 L738.50 441.66 L739.00 441.73 L739.50 441.80 L740.00 441.88 L740.50 441.95 L741.00 442.02 L741.50 442.09 L742.00 442.16 L742.50 442.23 L743.00 442.31 L743.50 442.38 L744.00 442.45 L744.50 442.51 L745.00 442.58 L745.50 442.65 L746.00 442.72 L746.50 442.79 L747.00 442.86 L747.50 442.92 L748.00 442.99 L748.50 443.06 L749.00 443.12 L749.50 443.19 L750.00 443.25 L750.50 443.32 L751.00 443.38 L751.50 443.45 L752.00 443.51 L752.50 443.57 L753.00 443.64 L753.50 443.70 L754.00 443.76 L754.50 443.83 L755.00 443.89 L755.50 443.95 L756.00 444.01 L756.50 444.07 L757.00 444.13 L757.50 444.19 L758.00 444.25 L758.50 444.31 L759.00 444.37 L759.50 444.43 L760.00 444.49 L760.50 444.54 L761.00 444.60 L761.50 444.66 L762.00 444.72 L762.50 444.77 L763.00 444.83 L763.50 444.88 L764.00 444.94 L764.50 445.00 L765.00 445.05 L765.50 445.10 L766.00 445.16 L766.50 445.21 L767.00 445.27 L767.50 445.32 L768.00 445.37 L768.50 445.42 L769.00 445.48 L769.50 445.53 L770.00 445.58 L770.50 445.63 L771.00 445.68 L771.50 445.73 L772.00 445.78 L772.50 445.83 L773.00 445.88 L773.50 445.93 L774.00 445.98 L774.50 446.03 L775.00 446.08 L775.50 446.12 L776.00 446.17 L776.50 446.22 L777.00 446.26 L777.50 446.31 L778.00 446.36 L778.50 446.40 L779.00 446.45 L779.50 446.49 L780.00 446.54 L780.50 446.58 L781.00 446.63 L781.50 446.67 L782.00 446.71 L782.50 446.76 L783.00 446.80 L783.50 446.84 L784.00 446.89 L784.50 446.93 L785.00 446.97 L785.50 447.01 L786.00 447.05 L786.50 447.09 L787.00 447.13 L787.50 447.17 L788.00 447.21 L788.50 447.25 L789.00 447.29 L789.50 447.33 L790.00 447.37 L790.50 447.41 L791.00 447.44 L791.50 447.48 L792.00 447.52 L792.50 447.55 L793.00 447.59 L793.40 447.62" fill="none" stroke="#00ffff" stroke-width="3.60" stroke-linecap="round" stroke-linejoin="round" stroke-dasharray="16 20.6 2.4 19.9" stroke-dashoffset="-3.60"/>
<path d="M369.60 460.88 L370.10 460.12 L370.60 459.36 L371.10 458.60 L371.60 457.85 L372.10 457.10 L372.60 456.35 L373.10 455.61 L373.60 454.86 L374.10 454.13 L374.60 453.39 L375.10 452.66 L375.60 451.93 L376.10 451.20 L376.60 450.48 L377.10 449.76 L377.60 449.04 L378.10 448.33 L378.60 447.61 L379.10 446.90 L379.60 446.20 L380.10 445.49 L380.60 444.79 L381.10 444.09 L381.60 443.39 L382.10 442.69 L382.60 442.00 L383.10 441.31 L383.60 440.62 L384.10 439.93 L384.60 439.25 L385.10 438.56 L385.60 437.88 L386.10 437.20 L386.60 436.53 L387.10 435.85 L387.60 435.18 L388.10 434.50 L388.60 433.83 L389.10 433.16 L389.60 432.49 L390.10 431.83 L390.60 431.16 L391.10 430.50 L391.60 429.84 L392.10 429.17 L392.60 428.51 L393.10 427.86 L393.60 427.20 L394.10 426.54 L394.60 425.88 L395.10 425.23 L395.60 424.58 L396.10 423.92 L396.60 423.27 L397.10 422.62 L397.60 421.97 L398.10 421.32 L398.60 420.67 L399.10 420.02 L399.60 419.37 L400.10 418.72 L400.60 418.07 L401.10 417.42 L401.60 416.77 L402.10 416.13 L402.60 415.48 L403.10 414.83 L403.60 414.19 L404.10 413.54 L404.60 412.89 L405.10 412.24 L405.60 411.60 L406.10 410.95 L406.60 410.30 L407.10 409.65 L407.60 409.00 L408.10 408.36 L408.60 407.71 L409.10 407.06 L409.60 406.41 L410.10 405.75 L410.60 405.10 L411.10 404.45 L411.60 403.80 L412.10 403.15 L412.60 402.49 L413.10 401.84 L413.60 401.19 L414.10 400.53 L414.60 399.88 L415.10 399.22 L415.60 398.57 L416.10 397.91 L416.60 397.26 L417.10 396.60 L417.60 395.95 L418.10 395.29 L418.60 394.63 L419.10 393.98 L419.60 393.32 L420.10 392.67 L420.60 392.01 L421.10 391.35 L421.60 390.70 L422.10 390.04 L422.60 389.39 L423.10 388.73 L423.60 388.08 L424.10 387.42 L424.60 386.77 L425.10 386.12 L425.60 385.46 L426.10 384.81 L426.60 384.15 L427.10 383.50 L427.60 382.85 L428.10 382.20 L428.60 381.55 L429.10 380.90 L429.60 380.25 L430.10 379.60 L430.60 378.95 L431.10 378.30 L431.60 377.65 L432.10 377.00 L432.60 376.36 L433.10 375.71 L433.60 375.07 L434.10 374.42 L434.60 373.78 L435.10 373.14 L435.60 372.49 L436.10 371.85 L436.60 371.21 L437.10 370.58 L437.60 369.94 L438.10 369.30 L438.60 368.66 L439.10 368.03 L439.60 367.40 L440.10 366.76 L440.60 366.13 L441.10 365.50 L441.60 364.87 L442.10 364.25 L442.60 363.62 L443.10 362.99 L443.60 362.37 L444.10 361.75 L444.60 361.13 L445.10 360.51 L445.60 359.89 L446.10 359.27 L446.60 358.65 L447.10 358.04 L447.60 357.43 L448.10 356.82 L448.60 356.21 L449.10 355.60 L449.60 354.99 L450.10 354.39 L450.60 353.79 L451.10 353.19 L451.60 352.59 L452.10 351.99 L452.60 351.39 L453.10 350.80 L453.60 350.21 L454.10 349.61 L454.60 349.02 L455.10 348.44 L455.60 347.85 L456.10 347.27 L456.60 346.68 L457.10 346.10 L457.60 345.52 L458.10 344.95 L458.60 344.37 L459.10 343.79 L459.60 343.22 L460.10 342.65 L460.60 342.08 L461.10 341.51 L461.60 340.95 L462.10 340.38 L462.60 339.82 L463.10 339.26 L463.60 338.70 L464.10 338.14 L464.60 337.58 L465.10 337.03 L465.60 336.48 L466.10 335.93 L466.60 335.38 L467.10 334.83 L467.60 334.28 L468.10 333.74 L468.60 333.19 L469.10 332.65 L469.60 332.11 L470.10 331.57 L470.60 331.04 L471.10 330.50 L471.60 329.97 L472.10 329.44 L472.60 328.91 L473.10 328.38 L473.60 327.85 L474.10 327.33 L474.60 326.80 L475.10 326.28 L475.60 325.76 L476.10 325.24 L476.60 324.73 L477.10 324.21 L477.60 323.70 L478.10 323.19 L478.60 322.68 L479.10 322.17 L479.60 321.66 L480.10 321.15 L480.60 320.65 L481.10 320.15 L481.60 319.65 L482.10 319.15 L482.60 318.65 L483.10 318.16 L483.60 317.66 L484.10 317.17 L484.60 316.68 L485.10 316.19 L485.60 315.70 L486.10 315.22 L486.60 314.73 L487.10 314.25 L487.60 313.77 L488.10 313.29 L488.60 312.81 L489.10 312.33 L489.60 311.86 L490.10 311.39 L490.60 310.91 L491.10 310.44 L491.60 309.98 L492.10 309.51 L492.60 309.04 L493.10 308.58 L493.60 308.12 L494.10 307.66 L494.60 307.20 L495.10 306.74 L495.60 306.29 L496.10 305.83 L496.60 305.38 L497.10 304.93 L497.60 304.48 L498.10 304.04 L498.60 303.59 L499.10 303.15 L499.60 302.70 L500.10 302.26 L500.60 301.82 L501.10 301.38 L501.60 300.95 L502.10 300.51 L502.60 300.08 L503.10 299.65 L503.60 299.22 L504.10 298.79 L504.60 298.37 L505.10 297.94 L505.60 297.52 L506.10 297.10 L506.60 296.67 L507.10 296.26 L507.60 295.84 L508.10 295.42 L508.60 295.01 L509.10 294.60 L509.60 294.19 L510.10 293.78 L510.60 293.37 L511.10 292.96 L511.60 292.56 L512.10 292.16 L512.60 291.76 L513.10 291.36 L513.60 290.96 L514.10 290.56 L514.60 290.17 L515.10 289.77 L515.60 289.38 L516.10 288.99 L516.60 288.60 L517.10 288.22 L517.60 287.83 L518.10 287.45 L518.60 287.06 L519.10 286.68 L519.60 286.30 L520.10 285.93 L520.60 285.55 L521.10 285.18 L521.60 284.80 L522.10 284.43 L522.60 284.06 L523.10 283.69 L523.60 283.33 L524.10 282.96 L524.60 282.60 L525.10 282.24 L525.60 281.88 L526.10 281.52 L526.60 281.16 L527.10 280.80 L527.60 280.45 L528.10 280.10 L528.60 279.75 L529.10 279.40 L529.60 279.05 L530.10 278.70 L530.60 278.36 L531.10 278.01 L531.60 277.67 L532.10 277.33 L532.60 276.99 L533.10 276.66 L533.60 276.32 L534.10 275.99 L534.60 275.65 L535.10 275.32 L535.60 274.99 L536.10 274.67 L536.60 274.34 L537.10 274.02 L537.60 273.69 L538.10 273.37 L538.60 273.05 L539.10 272.73 L539.60 272.42 L540.10 272.10 L540.60 271.79 L541.10 271.47 L541.60 271.16 L542.10 270.85 L542.60 270.55 L543.10 270.24 L543.60 269.93 L544.10 269.63 L544.60 269.33 L545.10 269.03 L545.60 268.73 L546.10 268.43 L546.60 268.14 L547.10 267.85 L547.60 267.55 L548.10 267.26 L548.60 266.97 L549.10 266.68 L549.60 266.40 L550.10 266.11 L550.60 265.83 L551.10 265.55 L551.60 265.27 L552.10 264.99 L552.60 264.71 L553.10 264.43 L553.60 264.16 L554.10 263.89 L554.60 263.62 L555.10 263.35 L555.60 263.08 L556.10 262.81 L556.60 262.54 L557.10 262.28 L557.60 262.02 L558.10 261.76 L558.60 261.50 L559.10 261.24 L559.60 260.98 L560.10 260.72 L560.60 260.47 L561.10 260.22 L561.60 259.97 L562.10 259.71 L562.60 259.47 L563.10 259.22 L563.60 258.97 L564.10 258.73 L564.60 258.49 L565.10 258.24 L565.60 258.00 L566.10 257.76 L566.60 257.53 L567.10 257.29 L567.60 257.06 L568.10 256.82 L568.60 256.59 L569.10 256.36 L569.60 256.13 L570.10 255.90 L570.60 255.68 L571.10 255.45 L571.60 255.23 L572.10 255.00 L572.60 254.78 L573.10 254.56 L573.60 254.34 L574.10 254.13 L574.60 253.91 L575.10 253.70 L575.60 253.48 L576.10 253.27 L576.60 253.06 L577.10 252.85 L577.60 252.64 L578.10 252.44 L578.60 252.23 L579.10 252.03 L579.60 251.82 L580.10 251.62 L580.60 251.42 L581.10 251.22 L581.60 251.02 L582.10 250.83 L582.60 250.63 L583.10 250.44 L583.60 250.24 L584.10 250.05 L584.60 249.86 L585.10 249.67 L585.60 249.48 L586.10 249.30 L586.60 249.11 L587.10 248.93 L587.60 248.74 L588.10 248.56 L588.60 248.38 L589.10 248.20 L589.60 248.02 L590.10 247.85 L590.60 247.67 L591.10 247.49 L591.60 247.32 L592.10 247.15 L592.60 246.98 L593.10 246.81 L593.60 246.64 L594.10 246.47 L594.60 246.30 L595.10 246.14 L595.60 245.98 L596.10 245.81 L596.60 245.65 L597.10 245.49 L597.60 245.33 L598.10 245.17 L598.60 245.01 L599.10 244.86 L599.60 244.70 L600.10 244.55 L600.60 244.40 L601.10 244.24 L601.60 244.09 L602.10 243.94 L602.60 243.80 L603.10 243.65 L603.60 243.50 L604.10 243.36 L604.60 243.21 L605.10 243.07 L605.60 242.93 L606.10 242.79 L606.60 242.65 L607.10 242.51 L607.60 242.37 L608.10 242.24 L608.60 242.10 L609.10 241.97 L609.60 241.83 L610.10 241.70 L610.60 241.57 L611.10 241.44 L611.60 241.31 L612.10 241.18 L612.60 241.05 L613.10 240.93 L613.60 240.80 L614.10 240.68 L614.60 240.56 L615.10 240.43 L615.60 240.31 L616.10 240.19 L616.60 240.07 L617.10 239.96 L617.60 239.84 L618.10 239.72 L618.60 239.61 L619.10 239.49 L619.60 239.38 L620.10 239.27 L620.60 239.16 L621.10 239.05 L621.60 238.94 L622.10 238.83 L622.60 238.72 L623.10 238.62 L623.60 238.51 L624.10 238.41 L624.60 238.30 L625.10 238.20 L625.60 238.10 L626.10 238.00 L626.60 237.90 L627.10 237.80 L627.60 237.70 L628.10 237.60 L628.60 237.51 L629.10 237.41 L629.60 237.32 L630.10 237.22 L630.60 237.13 L631.10 237.04 L631.60 236.95 L632.10 236.86 L632.60 236.77 L633.10 236.68 L633.60 236.60 L634.10 236.51 L634.60 236.42 L635.10 236.34 L635.60 236.25 L636.10 236.17 L636.60 236.09 L637.10 236.01 L637.60 235.93 L638.10 235.85 L638.60 235.77 L639.10 235.69 L639.60 235.61 L640.10 235.54 L640.60 235.46 L641.10 235.39 L641.60 235.31 L642.10 235.24 L642.60 235.17 L643.10 235.10 L643.60 235.03 L644.10 234.96 L644.60 234.89 L645.10 234.82 L645.60 234.75 L646.10 234.69 L646.60 234.62 L647.10 234.55 L647.60 234.49 L648.10 234.43 L648.60 234.36 L649.10 234.30 L649.60 234.24 L650.10 234.18 L650.60 234.12 L651.10 234.06 L651.60 234.00 L652.10 233.94 L652.60 233.89 L653.10 233.83 L653.60 233.77 L654.10 233.72 L654.60 233.67 L655.10 233.61 L655.60 233.56 L656.10 233.51 L656.60 233.46 L657.10 233.41 L657.60 233.36 L658.10 233.31 L658.60 233.26 L659.10 233.21 L659.60 233.16 L660.10 233.12 L660.60 233.07 L661.10 233.02 L661.60 232.98 L662.10 232.94 L662.60 232.89 L663.10 232.85 L663.60 232.81 L664.10 232.77 L664.60 232.73 L665.10 232.69 L665.60 232.65 L666.10 232.61 L666.60 232.57 L667.10 232.53 L667.60 232.50 L668.10 232.46 L668.60 232.42 L669.10 232.39 L669.60 232.35 L670.10 232.32 L670.60 232.29 L671.10 232.25 L671.60 232.22 L672.10 232.19 L672.60 232.16 L673.10 232.13 L673.60 232.10 L674.10 232.07 L674.60 232.04 L675.10 232.01 L675.60 231.98 L676.10 231.96 L676.60 231.93 L677.10 231.91 L677.60 231.88 L678.10 231.85 L678.60 231.83 L679.10 231.81 L679.60 231.78 L680.10 231.76 L680.60 231.74 L681.10 231.72 L681.60 231.70 L682.10 231.67 L682.60 231.65 L683.10 231.63 L683.60 231.61 L684.10 231.60 L684.60 231.58 L685.10 231.56 L685.60 231.54 L686.10 231.53 L686.60 231.51 L687.10 231.49 L687.60 231.48 L688.10 231.46 L688.60 231.45 L689.10 231.43 L689.60 231.42 L690.10 231.41 L690.60 231.39 L691.10 231.38 L691.60 231.37 L692.10 231.36 L692.60 231.35 L693.10 231.34 L693.60 231.33 L694.10 231.32 L694.60 231.31 L695.10 231.30 L695.60 231.29 L696.10 231.28 L696.60 231.27 L697.10 231.27 L697.60 231.26 L698.10 231.25 L698.60 231.25 L699.10 231.24 L699.60 231.24 L700.10 231.23 L700.60 231.23 L701.10 231.22 L701.60 231.22 L702.10 231.21 L702.60 231.21 L703.10 231.21 L703.60 231.20 L704.10 231.20 L704.60 231.20 L705.10 231.20 L705.60 231.20 L706.10 231.20 L706.60 231.20 L707.10 231.20 L707.60 231.20 L708.10 231.20 L708.60 231.20 L709.10 231.20 L709.60 231.20 L710.10 231.20 L710.60 231.20 L711.10 231.20 L711.60 231.21 L712.10 231.21 L712.60 231.21 L713.10 231.21 L713.60 231.22 L714.10 231.22 L714.60 231.23 L715.10 231.23 L715.60 231.23 L716.10 231.24 L716.60 231.24 L717.10 231.25 L717.60 231.25 L718.10 231.26 L718.60 231.27 L719.10 231.27 L719.60 231.28 L720.10 231.29 L720.60 231.29 L721.10 231.30 L721.60 231.31 L722.10 231.31 L722.60 231.32 L723.10 231.33 L723.60 231.34 L724.10 231.35 L724.60 231.35 L725.10 231.36 L725.60 231.37 L726.10 231.38 L726.60 231.39 L727.10 231.40 L727.60 231.41 L728.10 231.42 L728.60 231.43 L729.10 231.44 L729.60 231.45 L730.10 231.46 L730.60 231.47 L731.10 231.48 L731.60 231.49 L732.10 231.50 L732.60 231.51 L733.10 231.52 L733.60 231.53 L734.10 231.54 L734.60 231.55 L735.10 231.56 L735.60 231.58 L736.10 231.59 L736.60 231.60 L737.10 231.61 L737.60 231.62 L738.10 231.63 L738.60 231.65 L739.10 231.66 L739.60 231.67 L740.10 231.68 L740.60 231.70 L741.10 231.71 L741.60 231.72 L742.10 231.73 L742.60 231.74 L743.10 231.76 L743.60 231.77 L744.10 231.78 L744.60 231.79 L745.10 231.81 L745.60 231.82 L746.10 231.83 L746.60 231.85 L747.10 231.86 L747.60 231.87 L748.10 231.88 L748.60 231.90 L749.10 231.91 L749.60 231.92 L750.10 231.93 L750.60 231.95 L751.10 231.96 L751.60 231.97 L752.10 231.99 L752.60 232.00 L753.10 232.01 L753.60 232.02 L754.10 232.04 L754.60 232.05 L755.10 232.06 L755.60 232.07 L756.10 232.09 L756.60 232.10 L757.10 232.11 L757.60 232.12 L758.10 232.13 L758.60 232.15 L759.10 232.16 L759.60 232.17 L760.10 232.18 L760.60 232.19 L761.10 232.21 L761.60 232.22 L762.10 232.23 L762.60 232.24 L763.10 232.25 L763.60 232.26 L764.10 232.27 L764.60 232.28 L765.10 232.29 L765.60 232.31 L766.10 232.32 L766.60 232.33 L767.10 232.34 L767.60 232.35 L768.10 232.36 L768.60 232.37 L769.10 232.38 L769.60 232.39 L770.10 232.39 L770.60 232.40 L771.10 232.41 L771.60 232.42 L772.10 232.43 L772.60 232.44 L773.10 232.45 L773.60 232.45 L774.10 232.46 L774.60 232.47 L775.10 232.48 L775.60 232.49 L776.10 232.49 L776.60 232.50 L777.10 232.51 L777.60 232.51 L778.10 232.52 L778.60 232.52 L779.10 232.53 L779.60 232.54 L780.10 232.54 L780.60 232.55 L781.10 232.55 L781.60 232.56 L782.10 232.56 L782.60 232.56 L783.10 232.57 L783.60 232.57 L784.10 232.58 L784.60 232.58 L785.10 232.58 L785.60 232.58 L786.10 232.59 L786.60 232.59 L787.10 232.59 L787.60 232.59 L788.10 232.59 L788.60 232.59 L789.10 232.59 L789.60 232.59 L790.10 232.59 L790.60 232.59 L791.10 232.59 L791.60 232.59 L792.10 232.59 L792.60 232.59 L793.10 232.59 L793.40 232.58" fill="none" stroke="#ff0000" stroke-width="3.80" stroke-linecap="round" stroke-linejoin="round" stroke-dasharray="2.8 18.97" stroke-dashoffset="-0.40"/>
</g>
<path d="M195.60 933.51 L196.10 933.52 L196.60 933.51 L197.10 933.46 L197.60 933.38 L198.10 933.27 L198.60 933.12 L199.10 932.95 L199.60 932.75 L200.10 932.52 L200.60 932.26 L201.10 931.98 L201.60 931.67 L202.10 931.33 L202.60 930.96 L203.10 930.57 L203.60 930.16 L204.10 929.72 L204.60 929.25 L205.10 928.77 L205.60 928.26 L206.10 927.73 L206.60 927.17 L207.10 926.60 L207.60 926.01 L208.10 925.39 L208.60 924.76 L209.10 924.11 L209.60 923.44 L210.10 922.75 L210.60 922.05 L211.10 921.32 L211.60 920.59 L212.10 919.83 L212.60 919.07 L213.10 918.29 L213.60 917.49 L214.10 916.68 L214.60 915.86 L215.10 915.03 L215.60 914.18 L216.10 913.32 L216.60 912.46 L217.10 911.58 L217.60 910.70 L218.10 909.80 L218.60 908.90 L219.10 907.99 L219.60 907.07 L220.10 906.15 L220.60 905.22 L221.10 904.28 L221.60 903.34 L222.10 902.40 L222.60 901.45 L223.10 900.50 L223.60 899.54 L224.10 898.59 L224.60 897.63 L225.10 896.67 L225.60 895.71 L226.10 894.75 L226.60 893.79 L227.10 892.82 L227.60 891.86 L228.10 890.90 L228.60 889.94 L229.10 888.97 L229.60 888.01 L230.10 887.04 L230.60 886.08 L231.10 885.11 L231.60 884.15 L232.10 883.18 L232.60 882.22 L233.10 881.25 L233.60 880.29 L234.10 879.32 L234.60 878.36 L235.10 877.39 L235.60 876.43 L236.10 875.46 L236.60 874.50 L237.10 873.53 L237.60 872.57 L238.10 871.61 L238.60 870.64 L239.10 869.68 L239.60 868.72 L240.10 867.76 L240.60 866.80 L241.10 865.84 L241.60 864.88 L242.10 863.92 L242.60 862.97 L243.10 862.01 L243.60 861.06 L244.10 860.10 L244.60 859.15 L245.10 858.20 L245.60 857.25 L246.10 856.30 L246.60 855.35 L247.10 854.41 L247.60 853.46 L248.10 852.52 L248.60 851.58 L249.10 850.64 L249.60 849.70 L250.10 848.76 L250.60 847.82 L251.10 846.89 L251.60 845.96 L252.10 845.03 L252.60 844.10 L253.10 843.17 L253.60 842.25 L254.10 841.33 L254.60 840.41 L255.10 839.49 L255.60 838.57 L256.10 837.66 L256.60 836.75 L257.10 835.84 L257.60 834.93 L258.10 834.03 L258.60 833.12 L259.10 832.22 L259.60 831.33 L260.10 830.43 L260.60 829.54 L261.10 828.65 L261.60 827.77 L262.10 826.88 L262.60 826.00 L263.10 825.13 L263.60 824.25 L264.10 823.38 L264.60 822.51 L265.10 821.65 L265.60 820.78 L266.10 819.92 L266.60 819.07 L267.10 818.22 L267.60 817.37 L268.10 816.52 L268.60 815.68 L269.10 814.84 L269.60 814.00 L270.10 813.17 L270.60 812.35 L271.10 811.52 L271.60 810.70 L272.10 809.88 L272.60 809.07 L273.10 808.26 L273.60 807.45 L274.10 806.65 L274.60 805.85 L275.10 805.06 L275.60 804.27 L276.10 803.48 L276.60 802.69 L277.10 801.91 L277.60 801.14 L278.10 800.36 L278.60 799.59 L279.10 798.83 L279.60 798.06 L280.10 797.30 L280.60 796.55 L281.10 795.79 L281.60 795.05 L282.10 794.30 L282.60 793.56 L283.10 792.82 L283.60 792.08 L284.10 791.35 L284.60 790.62 L285.10 789.90 L285.60 789.18 L286.10 788.46 L286.60 787.74 L287.10 787.03 L287.60 786.32 L288.10 785.62 L288.60 784.92 L289.10 784.22 L289.60 783.53 L290.10 782.83 L290.60 782.15 L291.10 781.46 L291.60 780.78 L292.10 780.10 L292.60 779.43 L293.10 778.76 L293.60 778.09 L294.10 777.42 L294.60 776.76 L295.10 776.10 L295.60 775.45 L296.10 774.79 L296.60 774.15 L297.10 773.50 L297.60 772.86 L298.10 772.22 L298.60 771.58 L299.10 770.95 L299.60 770.32 L300.10 769.69 L300.60 769.07 L301.10 768.45 L301.60 767.83 L302.10 767.21 L302.60 766.60 L303.10 765.99 L303.60 765.39 L304.10 764.79 L304.60 764.19 L305.10 763.59 L305.60 763.00 L306.10 762.41 L306.60 761.82 L307.10 761.23 L307.60 760.65 L308.10 760.07 L308.60 759.50 L309.10 758.93 L309.60 758.36 L310.10 757.79 L310.60 757.23 L311.10 756.67 L311.60 756.11 L312.10 755.55 L312.60 755.00 L313.10 754.45 L313.60 753.91 L314.10 753.36 L314.60 752.82 L315.10 752.28 L315.60 751.75 L316.10 751.22 L316.60 750.69 L317.10 750.16 L317.60 749.64 L318.10 749.11 L318.60 748.60 L319.10 748.08 L319.60 747.57 L320.10 747.06 L320.60 746.55 L321.10 746.05 L321.60 745.54 L322.10 745.04 L322.60 744.55 L323.10 744.05 L323.60 743.56 L324.10 743.07 L324.60 742.59 L325.10 742.10 L325.60 741.62 L326.10 741.15 L326.60 740.67 L327.10 740.20 L327.60 739.73 L328.10 739.26 L328.60 738.79 L329.10 738.33 L329.60 737.87 L330.10 737.41 L330.60 736.96 L331.10 736.50 L331.60 736.05 L332.10 735.61 L332.60 735.16 L333.10 734.72 L333.60 734.28 L334.10 733.84 L334.60 733.41 L335.10 732.97 L335.60 732.54 L336.10 732.12 L336.60 731.69 L337.10 731.27 L337.60 730.85 L338.10 730.43 L338.60 730.01 L339.10 729.60 L339.60 729.19 L340.10 728.78 L340.60 728.37 L341.10 727.97 L341.60 727.56 L342.10 727.16 L342.60 726.77 L343.10 726.37 L343.60 725.98 L344.10 725.59 L344.60 725.20 L345.10 724.81 L345.60 724.43 L346.10 724.05 L346.60 723.67 L347.10 723.29 L347.60 722.92 L348.10 722.54 L348.60 722.17 L349.10 721.80 L349.60 721.44 L350.10 721.07 L350.60 720.71 L351.10 720.35 L351.60 719.99 L352.10 719.64 L352.60 719.28 L353.10 718.93 L353.60 718.58 L354.10 718.23 L354.60 717.89 L355.10 717.54 L355.60 717.20 L356.10 716.86 L356.60 716.53 L357.10 716.19 L357.60 715.86 L358.10 715.53 L358.60 715.20 L359.10 714.87 L359.60 714.54 L360.10 714.22 L360.60 713.90 L361.10 713.58 L361.60 713.26 L362.10 712.94 L362.60 712.63 L363.10 712.32 L363.60 712.01 L364.10 711.70 L364.60 711.39 L365.10 711.09 L365.60 710.79 L366.10 710.48 L366.60 710.19 L367.10 709.89 L367.60 709.59 L368.10 709.30 L368.60 709.01 L369.10 708.72 L369.60 708.43 L370.10 708.14 L370.60 707.86 L371.10 707.57 L371.60 707.29 L372.10 707.01 L372.60 706.73 L373.10 706.46 L373.60 706.18 L374.10 705.91 L374.60 705.64 L375.10 705.37 L375.60 705.10 L376.10 704.83 L376.60 704.57 L377.10 704.30 L377.60 704.04 L378.10 703.78 L378.60 703.52 L379.10 703.27 L379.60 703.01 L380.10 702.76 L380.60 702.50 L381.10 702.25 L381.60 702.00 L382.10 701.76 L382.60 701.51 L383.10 701.27 L383.60 701.02 L384.10 700.78 L384.60 700.54 L385.10 700.30 L385.60 700.06 L386.10 699.83 L386.60 699.59 L387.10 699.36 L387.60 699.13 L388.10 698.90 L388.60 698.67 L389.10 698.44 L389.60 698.21 L390.10 697.99 L390.60 697.77 L391.10 697.54 L391.60 697.32 L392.10 697.10 L392.60 696.89 L393.10 696.67 L393.60 696.45 L394.10 696.24 L394.60 696.02 L395.10 695.81 L395.60 695.60 L396.10 695.39 L396.60 695.18 L397.10 694.98 L397.60 694.77 L398.10 694.57 L398.60 694.36 L399.10 694.16 L399.60 693.96 L400.10 693.76 L400.60 693.56 L401.10 693.36 L401.60 693.17 L402.10 692.97 L402.60 692.78 L403.10 692.59 L403.60 692.39 L404.10 692.20 L404.60 692.01 L405.10 691.82 L405.60 691.64 L406.10 691.45 L406.60 691.26 L407.10 691.08 L407.60 690.89 L408.10 690.71 L408.60 690.53 L409.10 690.35 L409.60 690.17 L410.10 689.99 L410.60 689.81 L411.10 689.64 L411.60 689.46 L412.10 689.29 L412.60 689.11 L413.10 688.94 L413.60 688.77 L414.10 688.59 L414.60 688.42 L415.10 688.25 L415.60 688.09 L416.10 687.92 L416.60 687.75 L417.10 687.58 L417.60 687.42 L418.10 687.25 L418.60 687.09 L419.10 686.93 L419.60 686.77 L420.10 686.60 L420.60 686.44 L421.10 686.28 L421.60 686.13 L422.10 685.97 L422.60 685.81 L423.10 685.66 L423.60 685.50 L424.10 685.35 L424.60 685.19 L425.10 685.04 L425.60 684.89 L426.10 684.74 L426.60 684.59 L427.10 684.44 L427.60 684.29 L428.10 684.14 L428.60 683.99 L429.10 683.85 L429.60 683.70 L430.10 683.56 L430.60 683.41 L431.10 683.27 L431.60 683.13 L432.10 682.98 L432.60 682.84 L433.10 682.70 L433.60 682.56 L434.10 682.43 L434.60 682.29 L435.10 682.15 L435.60 682.02 L436.10 681.88 L436.60 681.75 L437.10 681.61 L437.60 681.48 L438.10 681.35 L438.60 681.22 L439.10 681.09 L439.60 680.96 L440.10 680.83 L440.60 680.70 L441.10 680.57 L441.60 680.44 L442.10 680.32 L442.60 680.19 L443.10 680.07 L443.60 679.94 L444.10 679.82 L444.60 679.70 L445.10 679.58 L445.60 679.45 L446.10 679.33 L446.60 679.21 L447.10 679.10 L447.60 678.98 L448.10 678.86 L448.60 678.74 L449.10 678.63 L449.60 678.51 L450.10 678.40 L450.60 678.28 L451.10 678.17 L451.60 678.06 L452.10 677.95 L452.60 677.84 L453.10 677.72 L453.60 677.62 L454.10 677.51 L454.60 677.40 L455.10 677.29 L455.60 677.18 L456.10 677.08 L456.60 676.97 L457.10 676.87 L457.60 676.76 L458.10 676.66 L458.60 676.56 L459.10 676.45 L459.60 676.35 L460.10 676.25 L460.60 676.15 L461.10 676.05 L461.60 675.95 L462.10 675.86 L462.60 675.76 L463.10 675.66 L463.60 675.57 L464.10 675.47 L464.60 675.37 L465.10 675.28 L465.60 675.19 L466.10 675.09 L466.60 675.00 L467.10 674.91 L467.60 674.82 L468.10 674.73 L468.60 674.64 L469.10 674.55 L469.60 674.46 L470.10 674.37 L470.60 674.29 L471.10 674.20 L471.60 674.11 L472.10 674.03 L472.60 673.94 L473.10 673.86 L473.60 673.77 L474.10 673.69 L474.60 673.61 L475.10 673.53 L475.60 673.45 L476.10 673.36 L476.60 673.28 L477.10 673.21 L477.60 673.13 L478.10 673.05 L478.60 672.97 L479.10 672.89 L479.60 672.82 L480.10 672.74 L480.60 672.67 L481.10 672.59 L481.60 672.52 L482.10 672.44 L482.60 672.37 L483.10 672.30 L483.60 672.22 L484.10 672.15 L484.60 672.08 L485.10 672.01 L485.60 671.94 L486.10 671.87 L486.60 671.80 L487.10 671.74 L487.60 671.67 L488.10 671.60 L488.60 671.53 L489.10 671.47 L489.60 671.40 L490.10 671.34 L490.60 671.27 L491.10 671.21 L491.60 671.15 L492.10 671.08 L492.60 671.02 L493.10 670.96 L493.60 670.90 L494.10 670.84 L494.60 670.78 L495.10 670.72 L495.60 670.66 L496.10 670.60 L496.60 670.54 L497.10 670.48 L497.60 670.43 L498.10 670.37 L498.60 670.31 L499.10 670.26 L499.60 670.20 L500.10 670.15 L500.60 670.09 L501.10 670.04 L501.60 669.99 L502.10 669.93 L502.60 669.88 L503.10 669.83 L503.60 669.78 L504.10 669.73 L504.60 669.68 L505.10 669.63 L505.60 669.58 L506.10 669.53 L506.60 669.48 L507.10 669.43 L507.60 669.38 L508.10 669.34 L508.60 669.29 L509.10 669.24 L509.60 669.20 L510.10 669.15 L510.60 669.11 L511.10 669.06 L511.60 669.02 L512.10 668.97 L512.60 668.93 L513.10 668.89 L513.60 668.85 L514.10 668.80 L514.60 668.76 L515.10 668.72 L515.60 668.68 L516.10 668.64 L516.60 668.60 L517.10 668.56 L517.60 668.52 L518.10 668.48 L518.60 668.44 L519.10 668.41 L519.60 668.37 L520.10 668.33 L520.60 668.29 L521.10 668.26 L521.60 668.22 L522.10 668.19 L522.60 668.15 L523.10 668.12 L523.60 668.08 L524.10 668.05 L524.60 668.02 L525.10 667.98 L525.60 667.95 L526.10 667.92 L526.60 667.88 L527.10 667.85 L527.60 667.82 L528.10 667.79 L528.60 667.76 L529.10 667.73 L529.60 667.70 L530.10 667.67 L530.60 667.64 L531.10 667.61 L531.60 667.58 L532.10 667.55 L532.60 667.53 L533.10 667.50 L533.60 667.47 L534.10 667.45 L534.60 667.42 L535.10 667.39 L535.60 667.37 L536.10 667.34 L536.60 667.32 L537.10 667.29 L537.60 667.27 L538.10 667.24 L538.60 667.22 L539.10 667.19 L539.60 667.17 L540.10 667.15 L540.60 667.13 L541.10 667.10 L541.60 667.08 L542.10 667.06 L542.60 667.04 L543.10 667.02 L543.60 667.00 L544.10 666.97 L544.60 666.95 L545.10 666.93 L545.60 666.91 L546.10 666.90 L546.60 666.88 L547.10 666.86 L547.60 666.84 L548.10 666.82 L548.60 666.80 L549.10 666.78 L549.60 666.77 L550.10 666.75 L550.60 666.73 L551.10 666.72 L551.60 666.70 L552.10 666.68 L552.60 666.67 L553.10 666.65 L553.60 666.64 L554.10 666.62 L554.60 666.61 L555.10 666.59 L555.60 666.58 L556.10 666.56 L556.60 666.55 L557.10 666.53 L557.60 666.52 L558.10 666.51 L558.60 666.49 L559.10 666.48 L559.60 666.47 L560.10 666.46 L560.60 666.44 L561.10 666.43 L561.60 666.42 L562.10 666.41 L562.60 666.40 L563.10 666.38 L563.60 666.37 L564.10 666.36 L564.60 666.35 L565.10 666.34 L565.60 666.33 L566.10 666.32 L566.60 666.31 L567.10 666.30 L567.60 666.29 L568.10 666.28 L568.60 666.27 L569.10 666.27 L569.60 666.26 L570.10 666.25 L570.60 666.24 L571.10 666.23 L571.60 666.22 L572.10 666.22 L572.60 666.21 L573.10 666.20 L573.60 666.19 L574.10 666.19 L574.60 666.18 L575.10 666.17 L575.60 666.16 L576.10 666.16 L576.60 666.15 L577.10 666.15 L577.60 666.14 L578.10 666.13 L578.60 666.13 L579.10 666.12 L579.60 666.12 L580.10 666.11 L580.60 666.10 L581.10 666.10 L581.60 666.09 L582.10 666.09 L582.60 666.08 L583.10 666.08 L583.60 666.07 L584.10 666.07 L584.60 666.07 L585.10 666.06 L585.60 666.06 L586.10 666.05 L586.60 666.05 L587.10 666.04 L587.60 666.04 L588.10 666.04 L588.60 666.03 L589.10 666.03 L589.60 666.03 L590.10 666.02 L590.60 666.02 L591.10 666.02 L591.60 666.01 L592.10 666.01 L592.60 666.01 L593.10 666.00 L593.60 666.00 L594.10 666.00 L594.60 666.00 L595.10 665.99 L595.60 665.99 L596.10 665.99 L596.60 665.98 L597.10 665.98 L597.60 665.98 L598.10 665.98 L598.60 665.98 L599.10 665.97 L599.60 665.97 L600.10 665.97 L600.60 665.97 L601.10 665.96 L601.60 665.96 L602.10 665.96 L602.60 665.96 L603.10 665.96 L603.60 665.95 L604.10 665.95 L604.60 665.95 L605.10 665.95 L605.60 665.95 L606.10 665.94 L606.60 665.94 L607.10 665.94 L607.60 665.94 L608.10 665.94 L608.60 665.94 L609.10 665.93 L609.60 665.93 L610.10 665.93 L610.60 665.93 L611.10 665.93 L611.60 665.92 L612.10 665.92 L612.60 665.92 L613.10 665.92 L613.60 665.92 L614.10 665.92 L614.60 665.91 L615.10 665.91 L615.60 665.91 L616.10 665.91 L616.60 665.91 L617.10 665.91 L617.60 665.90 L618.10 665.90 L618.60 665.90 L619.10 665.90 L619.60 665.90 L620.10 665.90 L620.60 665.89 L621.10 665.89 L621.60 665.89 L622.10 665.89 L622.60 665.89 L623.10 665.89 L623.60 665.88 L624.10 665.88 L624.60 665.88 L625.10 665.88 L625.60 665.88 L626.10 665.88 L626.60 665.87 L627.10 665.87 L627.60 665.87 L628.10 665.87 L628.60 665.87 L629.10 665.87 L629.60 665.87 L630.10 665.86 L630.60 665.86 L631.10 665.86 L631.60 665.86 L632.10 665.86 L632.60 665.86 L633.10 665.86 L633.60 665.86 L634.10 665.85 L634.60 665.85 L635.10 665.85 L635.60 665.85 L636.10 665.85 L636.60 665.85 L637.10 665.85 L637.60 665.85 L638.10 665.85 L638.60 665.84 L639.10 665.84 L639.60 665.84 L640.10 665.84 L640.60 665.84 L641.10 665.84 L641.60 665.84 L642.10 665.84 L642.60 665.84 L643.10 665.84 L643.60 665.84 L644.10 665.84 L644.60 665.83 L645.10 665.83 L645.60 665.83 L646.10 665.83 L646.60 665.83 L647.10 665.83 L647.60 665.83 L648.10 665.83 L648.60 665.83 L649.10 665.83 L649.60 665.83 L650.10 665.83 L650.60 665.83 L651.10 665.83 L651.60 665.83 L652.10 665.83 L652.60 665.83 L653.10 665.83 L653.60 665.83 L654.10 665.83 L654.60 665.83 L655.10 665.83 L655.60 665.83 L656.10 665.83 L656.60 665.83 L657.10 665.83 L657.60 665.83 L658.10 665.83 L658.60 665.83 L659.10 665.83 L659.60 665.83 L660.10 665.83 L660.60 665.83 L661.10 665.83 L661.60 665.83 L662.10 665.83 L662.60 665.83 L663.10 665.83 L663.60 665.83 L664.10 665.83 L664.60 665.83 L665.10 665.84 L665.60 665.84 L666.10 665.84 L666.60 665.84 L667.10 665.84 L667.60 665.84 L668.10 665.84 L668.60 665.84 L669.10 665.84 L669.60 665.84 L670.10 665.85 L670.60 665.85 L671.10 665.85 L671.60 665.85 L672.10 665.85 L672.60 665.85 L673.10 665.85 L673.60 665.86 L674.10 665.86 L674.60 665.86 L675.10 665.86 L675.60 665.86 L676.10 665.86 L676.60 665.87 L677.10 665.87 L677.60 665.87 L678.10 665.87 L678.60 665.87 L679.10 665.88 L679.60 665.88 L680.10 665.88 L680.60 665.88 L681.10 665.89 L681.60 665.89 L682.10 665.89 L682.60 665.89 L683.10 665.90 L683.60 665.90 L684.10 665.90 L684.60 665.90 L685.10 665.91 L685.60 665.91 L686.10 665.91 L686.60 665.92 L687.10 665.92 L687.60 665.92 L688.10 665.92 L688.60 665.93 L689.10 665.93 L689.60 665.93 L690.10 665.94 L690.60 665.94 L691.10 665.94 L691.60 665.95 L692.10 665.95 L692.60 665.96 L693.10 665.96 L693.60 665.96 L694.10 665.97 L694.60 665.97 L695.10 665.97 L695.60 665.98 L696.10 665.98 L696.60 665.99 L697.10 665.99 L697.60 666.00 L698.10 666.00 L698.60 666.00 L699.10 666.01 L699.60 666.01 L700.10 666.02 L700.60 666.02 L701.10 666.03 L701.60 666.03 L702.10 666.04 L702.60 666.04 L703.10 666.05 L703.60 666.05 L704.10 666.06 L704.60 666.06 L705.10 666.07 L705.60 666.07 L706.10 666.08 L706.60 666.08 L707.10 666.09 L707.60 666.10 L708.10 666.10 L708.60 666.11 L709.10 666.11 L709.60 666.12 L710.10 666.13 L710.60 666.13 L711.10 666.14 L711.60 666.14 L712.10 666.15 L712.60 666.16 L713.10 666.16 L713.60 666.17 L714.10 666.18 L714.60 666.18 L715.10 666.19 L715.60 666.20 L716.10 666.20 L716.60 666.21 L717.10 666.22 L717.60 666.23 L718.10 666.23 L718.60 666.24 L719.10 666.25 L719.60 666.26 L720.10 666.26 L720.60 666.27 L721.10 666.28 L721.60 666.29 L722.10 666.29 L722.60 666.30 L723.10 666.31 L723.60 666.32 L724.10 666.33 L724.60 666.34 L725.10 666.34 L725.60 666.35 L726.10 666.36 L726.60 666.37 L727.10 666.38 L727.60 666.39 L728.10 666.40 L728.60 666.41 L729.10 666.42 L729.60 666.42 L730.10 666.43 L730.60 666.44 L731.10 666.45 L731.60 666.46 L732.10 666.47 L732.60 666.48 L733.10 666.49 L733.60 666.50 L734.10 666.51 L734.60 666.52 L735.10 666.53 L735.60 666.54 L736.10 666.55 L736.60 666.56 L737.10 666.57 L737.60 666.58 L738.10 666.60 L738.60 666.61 L739.10 666.62 L739.60 666.63 L740.10 666.64 L740.60 666.65 L741.10 666.66 L741.60 666.67 L742.10 666.69 L742.60 666.70 L743.10 666.71 L743.60 666.72 L744.10 666.73 L744.60 666.74 L745.10 666.76 L745.60 666.77 L746.10 666.78 L746.60 666.79 L747.10 666.81 L747.60 666.82 L748.10 666.83 L748.60 666.84 L749.10 666.86 L749.60 666.87 L750.10 666.88 L750.60 666.90 L751.10 666.91 L751.60 666.92 L752.10 666.94 L752.60 666.95 L753.10 666.96 L753.60 666.98 L754.10 666.99 L754.60 667.01 L755.10 667.02 L755.60 667.04 L756.10 667.05 L756.60 667.06 L757.10 667.08 L757.60 667.09 L758.10 667.11 L758.60 667.12 L759.10 667.14 L759.60 667.15 L760.10 667.17 L760.60 667.18 L761.10 667.20 L761.60 667.22 L762.10 667.23 L762.60 667.25 L763.10 667.26 L763.60 667.28 L764.10 667.29 L764.60 667.31 L765.10 667.33 L765.60 667.34 L766.10 667.36 L766.60 667.38 L767.10 667.39 L767.60 667.41 L768.10 667.43 L768.60 667.45 L769.10 667.46 L769.60 667.48 L770.10 667.50 L770.60 667.52 L771.10 667.53 L771.60 667.55 L772.10 667.57 L772.60 667.59 L773.10 667.61 L773.60 667.62 L774.10 667.64 L774.60 667.66 L775.10 667.68 L775.60 667.70 L776.10 667.72 L776.60 667.74 L777.10 667.76 L777.60 667.77 L778.10 667.79 L778.60 667.81 L779.10 667.83 L779.60 667.85 L780.10 667.87 L780.60 667.89 L781.10 667.91 L781.60 667.93 L782.10 667.95 L782.60 667.97 L783.10 668.00 L783.60 668.02 L784.10 668.04 L784.60 668.06 L785.10 668.08 L785.60 668.10 L786.10 668.12 L786.60 668.14 L787.10 668.17 L787.60 668.19 L788.10 668.21 L788.60 668.23 L789.10 668.25 L789.60 668.28 L790.10 668.30 L790.60 668.32 L791.10 668.34 L791.60 668.37 L792.10 668.39 L792.60 668.41 L793.10 668.44 L793.40 668.45" fill="none" stroke="#ff00ff" stroke-width="3.60" stroke-linecap="round" stroke-linejoin="round" stroke-dasharray="21.2 27.2" stroke-dashoffset="-1.80"/>
<path d="M308.60 933.19 L309.10 932.67 L309.60 932.15 L310.10 931.63 L310.60 931.11 L311.10 930.58 L311.60 930.06 L312.10 929.54 L312.60 929.02 L313.10 928.50 L313.60 927.98 L314.10 927.46 L314.60 926.94 L315.10 926.42 L315.60 925.90 L316.10 925.39 L316.60 924.87 L317.10 924.35 L317.60 923.83 L318.10 923.32 L318.60 922.80 L319.10 922.28 L319.60 921.77 L320.10 921.25 L320.60 920.73 L321.10 920.22 L321.60 919.70 L322.10 919.19 L322.60 918.67 L323.10 918.16 L323.60 917.65 L324.10 917.13 L324.60 916.62 L325.10 916.11 L325.60 915.59 L326.10 915.08 L326.60 914.57 L327.10 914.06 L327.60 913.55 L328.10 913.03 L328.60 912.52 L329.10 912.01 L329.60 911.50 L330.10 910.99 L330.60 910.48 L331.10 909.97 L331.60 909.46 L332.10 908.95 L332.60 908.44 L333.10 907.93 L333.60 907.43 L334.10 906.92 L334.60 906.41 L335.10 905.90 L335.60 905.39 L336.10 904.89 L336.60 904.38 L337.10 903.87 L337.60 903.36 L338.10 902.86 L338.60 902.35 L339.10 901.85 L339.60 901.34 L340.10 900.83 L340.60 900.33 L341.10 899.82 L341.60 899.32 L342.10 898.81 L342.60 898.31 L343.10 897.80 L343.60 897.30 L344.10 896.80 L344.60 896.29 L345.10 895.79 L345.60 895.28 L346.10 894.78 L346.60 894.28 L347.10 893.78 L347.60 893.27 L348.10 892.77 L348.60 892.27 L349.10 891.77 L349.60 891.26 L350.10 890.76 L350.60 890.26 L351.10 889.76 L351.60 889.26 L352.10 888.76 L352.60 888.25 L353.10 887.75 L353.60 887.25 L354.10 886.75 L354.60 886.25 L355.10 885.75 L355.60 885.25 L356.10 884.75 L356.60 884.25 L357.10 883.75 L357.60 883.25 L358.10 882.75 L358.60 882.25 L359.10 881.75 L359.60 881.26 L360.10 880.76 L360.60 880.26 L361.10 879.76 L361.60 879.26 L362.10 878.76 L362.60 878.26 L363.10 877.77 L363.60 877.27 L364.10 876.77 L364.60 876.27 L365.10 875.77 L365.60 875.28 L366.10 874.78 L366.60 874.28 L367.10 873.78 L367.60 873.29 L368.10 872.79 L368.60 872.29 L369.10 871.80 L369.60 871.30 L370.10 870.80 L370.60 870.30 L371.10 869.81 L371.60 869.31 L372.10 868.82 L372.60 868.32 L373.10 867.82 L373.60 867.33 L374.10 866.83 L374.60 866.33 L375.10 865.84 L375.60 865.34 L376.10 864.85 L376.60 864.35 L377.10 863.85 L377.60 863.36 L378.10 862.86 L378.60 862.37 L379.10 861.87 L379.60 861.38 L380.10 860.88 L380.60 860.38 L381.10 859.89 L381.60 859.39 L382.10 858.90 L382.60 858.40 L383.10 857.91 L383.60 857.41 L384.10 856.92 L384.60 856.42 L385.10 855.93 L385.60 855.43 L386.10 854.94 L386.60 854.44 L387.10 853.95 L387.60 853.45 L388.10 852.96 L388.60 852.46 L389.10 851.97 L389.60 851.47 L390.10 850.98 L390.60 850.48 L391.10 849.99 L391.60 849.49 L392.10 848.99 L392.60 848.50 L393.10 848.00 L393.60 847.51 L394.10 847.01 L394.60 846.52 L395.10 846.02 L395.60 845.53 L396.10 845.03 L396.60 844.54 L397.10 844.04 L397.60 843.55 L398.10 843.05 L398.60 842.56 L399.10 842.06 L399.60 841.57 L400.10 841.07 L400.60 840.57 L401.10 840.08 L401.60 839.58 L402.10 839.09 L402.60 838.59 L403.10 838.10 L403.60 837.60 L404.10 837.10 L404.60 836.61 L405.10 836.11 L405.60 835.61 L406.10 835.12 L406.60 834.62 L407.10 834.13 L407.60 833.63 L408.10 833.13 L408.60 832.64 L409.10 832.14 L409.60 831.64 L410.10 831.15 L410.60 830.65 L411.10 830.15 L411.60 829.66 L412.10 829.16 L412.60 828.66 L413.10 828.16 L413.60 827.67 L414.10 827.17 L414.60 826.67 L415.10 826.18 L415.60 825.68 L416.10 825.18 L416.60 824.68 L417.10 824.19 L417.60 823.69 L418.10 823.19 L418.60 822.69 L419.10 822.19 L419.60 821.70 L420.10 821.20 L420.60 820.70 L421.10 820.20 L421.60 819.71 L422.10 819.21 L422.60 818.71 L423.10 818.21 L423.60 817.72 L424.10 817.22 L424.60 816.72 L425.10 816.22 L425.60 815.72 L426.10 815.23 L426.60 814.73 L427.10 814.23 L427.60 813.73 L428.10 813.24 L428.60 812.74 L429.10 812.24 L429.60 811.74 L430.10 811.25 L430.60 810.75 L431.10 810.25 L431.60 809.75 L432.10 809.26 L432.60 808.76 L433.10 808.26 L433.60 807.76 L434.10 807.27 L434.60 806.77 L435.10 806.27 L435.60 805.77 L436.10 805.28 L436.60 804.78 L437.10 804.28 L437.60 803.79 L438.10 803.29 L438.60 802.79 L439.10 802.29 L439.60 801.80 L440.10 801.30 L440.60 800.80 L441.10 800.31 L441.60 799.81 L442.10 799.31 L442.60 798.82 L443.10 798.32 L443.60 797.83 L444.10 797.33 L444.60 796.83 L445.10 796.34 L445.60 795.84 L446.10 795.35 L446.60 794.85 L447.10 794.36 L447.60 793.86 L448.10 793.36 L448.60 792.87 L449.10 792.37 L449.60 791.88 L450.10 791.38 L450.60 790.89 L451.10 790.39 L451.60 789.90 L452.10 789.41 L452.60 788.91 L453.10 788.42 L453.60 787.92 L454.10 787.43 L454.60 786.94 L455.10 786.44 L455.60 785.95 L456.10 785.45 L456.60 784.96 L457.10 784.47 L457.60 783.98 L458.10 783.48 L458.60 782.99 L459.10 782.50 L459.60 782.00 L460.10 781.51 L460.60 781.02 L461.10 780.53 L461.60 780.04 L462.10 779.55 L462.60 779.05 L463.10 778.56 L463.60 778.07 L464.10 777.58 L464.60 777.09 L465.10 776.60 L465.60 776.11 L466.10 775.62 L466.60 775.13 L467.10 774.64 L467.60 774.15 L468.10 773.66 L468.60 773.17 L469.10 772.68 L469.60 772.19 L470.10 771.71 L470.60 771.22 L471.10 770.73 L471.60 770.24 L472.10 769.76 L472.60 769.27 L473.10 768.78 L473.60 768.30 L474.10 767.81 L474.60 767.32 L475.10 766.84 L475.60 766.35 L476.10 765.87 L476.60 765.38 L477.10 764.90 L477.60 764.42 L478.10 763.93 L478.60 763.45 L479.10 762.97 L479.60 762.49 L480.10 762.00 L480.60 761.52 L481.10 761.04 L481.60 760.56 L482.10 760.08 L482.60 759.60 L483.10 759.12 L483.60 758.64 L484.10 758.16 L484.60 757.68 L485.10 757.21 L485.60 756.73 L486.10 756.25 L486.60 755.77 L487.10 755.30 L487.60 754.82 L488.10 754.35 L488.60 753.87 L489.10 753.40 L489.60 752.93 L490.10 752.45 L490.60 751.98 L491.10 751.51 L491.60 751.04 L492.10 750.56 L492.60 750.09 L493.10 749.62 L493.60 749.15 L494.10 748.69 L494.60 748.22 L495.10 747.75 L495.60 747.28 L496.10 746.81 L496.60 746.35 L497.10 745.88 L497.60 745.42 L498.10 744.95 L498.60 744.49 L499.10 744.03 L499.60 743.56 L500.10 743.10 L500.60 742.64 L501.10 742.18 L501.60 741.72 L502.10 741.26 L502.60 740.80 L503.10 740.34 L503.60 739.89 L504.10 739.43 L504.60 738.97 L505.10 738.52 L505.60 738.06 L506.10 737.61 L506.60 737.15 L507.10 736.70 L507.60 736.25 L508.10 735.80 L508.60 735.35 L509.10 734.90 L509.60 734.45 L510.10 734.00 L510.60 733.55 L511.10 733.11 L511.60 732.66 L512.10 732.21 L512.60 731.77 L513.10 731.33 L513.60 730.88 L514.10 730.44 L514.60 730.00 L515.10 729.56 L515.60 729.12 L516.10 728.68 L516.60 728.24 L517.10 727.80 L517.60 727.37 L518.10 726.93 L518.60 726.50 L519.10 726.06 L519.60 725.63 L520.10 725.20 L520.60 724.76 L521.10 724.33 L521.60 723.90 L522.10 723.48 L522.60 723.05 L523.10 722.62 L523.60 722.19 L524.10 721.77 L524.60 721.34 L525.10 720.92 L525.60 720.50 L526.10 720.08 L526.60 719.66 L527.10 719.24 L527.60 718.82 L528.10 718.40 L528.60 717.98 L529.10 717.56 L529.60 717.15 L530.10 716.73 L530.60 716.32 L531.10 715.91 L531.60 715.50 L532.10 715.08 L532.60 714.67 L533.10 714.26 L533.60 713.86 L534.10 713.45 L534.60 713.04 L535.10 712.64 L535.60 712.23 L536.10 711.83 L536.60 711.42 L537.10 711.02 L537.60 710.62 L538.10 710.22 L538.60 709.82 L539.10 709.42 L539.60 709.02 L540.10 708.63 L540.60 708.23 L541.10 707.83 L541.60 707.44 L542.10 707.05 L542.60 706.65 L543.10 706.26 L543.60 705.87 L544.10 705.48 L544.60 705.09 L545.10 704.71 L545.60 704.32 L546.10 703.93 L546.60 703.55 L547.10 703.16 L547.60 702.78 L548.10 702.40 L548.60 702.01 L549.10 701.63 L549.60 701.25 L550.10 700.87 L550.60 700.50 L551.10 700.12 L551.60 699.74 L552.10 699.37 L552.60 698.99 L553.10 698.62 L553.60 698.24 L554.10 697.87 L554.60 697.50 L555.10 697.13 L555.60 696.76 L556.10 696.39 L556.60 696.03 L557.10 695.66 L557.60 695.29 L558.10 694.93 L558.60 694.56 L559.10 694.20 L559.60 693.84 L560.10 693.48 L560.60 693.12 L561.10 692.76 L561.60 692.40 L562.10 692.04 L562.60 691.69 L563.10 691.33 L563.60 690.97 L564.10 690.62 L564.60 690.27 L565.10 689.91 L565.60 689.56 L566.10 689.21 L566.60 688.86 L567.10 688.51 L567.60 688.17 L568.10 687.82 L568.60 687.47 L569.10 687.13 L569.60 686.78 L570.10 686.44 L570.60 686.10 L571.10 685.76 L571.60 685.42 L572.10 685.08 L572.60 684.74 L573.10 684.40 L573.60 684.06 L574.10 683.72 L574.60 683.39 L575.10 683.06 L575.60 682.72 L576.10 682.39 L576.60 682.06 L577.10 681.73 L577.60 681.40 L578.10 681.07 L578.60 680.74 L579.10 680.41 L579.60 680.09 L580.10 679.76 L580.60 679.44 L581.10 679.11 L581.60 678.79 L582.10 678.47 L582.60 678.15 L583.10 677.83 L583.60 677.51 L584.10 677.19 L584.60 676.87 L585.10 676.55 L585.60 676.24 L586.10 675.92 L586.60 675.61 L587.10 675.30 L587.60 674.99 L588.10 674.67 L588.60 674.36 L589.10 674.05 L589.60 673.75 L590.10 673.44 L590.60 673.13 L591.10 672.83 L591.60 672.52 L592.10 672.22 L592.60 671.91 L593.10 671.61 L593.60 671.31 L594.10 671.01 L594.60 670.71 L595.10 670.41 L595.60 670.12 L596.10 669.82 L596.60 669.52 L597.10 669.23 L597.60 668.93 L598.10 668.64 L598.60 668.35 L599.10 668.06 L599.60 667.77 L600.10 667.48 L600.60 667.19 L601.10 666.90 L601.60 666.61 L602.10 666.33 L602.60 666.04 L603.10 665.76 L603.60 665.48 L604.10 665.19 L604.60 664.91 L605.10 664.63 L605.60 664.35 L606.10 664.07 L606.60 663.79 L607.10 663.52 L607.60 663.24 L608.10 662.97 L608.60 662.69 L609.10 662.42 L609.60 662.14 L610.10 661.87 L610.60 661.60 L611.10 661.33 L611.60 661.06 L612.10 660.79 L612.60 660.52 L613.10 660.25 L613.60 659.99 L614.10 659.72 L614.60 659.46 L615.10 659.19 L615.60 658.93 L616.10 658.66 L616.60 658.40 L617.10 658.14 L617.60 657.88 L618.10 657.62 L618.60 657.36 L619.10 657.10 L619.60 656.84 L620.10 656.59 L620.60 656.33 L621.10 656.08 L621.60 655.82 L622.10 655.57 L622.60 655.31 L623.10 655.06 L623.60 654.81 L624.10 654.56 L624.60 654.31 L625.10 654.06 L625.60 653.81 L626.10 653.56 L626.60 653.31 L627.10 653.06 L627.60 652.82 L628.10 652.57 L628.60 652.33 L629.10 652.08 L629.60 651.84 L630.10 651.59 L630.60 651.35 L631.10 651.11 L631.60 650.87 L632.10 650.63 L632.60 650.39 L633.10 650.15 L633.60 649.91 L634.10 649.67 L634.60 649.43 L635.10 649.19 L635.60 648.96 L636.10 648.72 L636.60 648.48 L637.10 648.25 L637.60 648.01 L638.10 647.78 L638.60 647.55 L639.10 647.31 L639.60 647.08 L640.10 646.85 L640.60 646.62 L641.10 646.39 L641.60 646.16 L642.10 645.93 L642.60 645.70 L643.10 645.47 L643.60 645.24 L644.10 645.02 L644.60 644.79 L645.10 644.56 L645.60 644.34 L646.10 644.11 L646.60 643.89 L647.10 643.66 L647.60 643.44 L648.10 643.21 L648.60 642.99 L649.10 642.77 L649.60 642.55 L650.10 642.32 L650.60 642.10 L651.10 641.88 L651.60 641.66 L652.10 641.44 L652.60 641.22 L653.10 641.00 L653.60 640.79 L654.10 640.57 L654.60 640.35 L655.10 640.13 L655.60 639.92 L656.10 639.70 L656.60 639.48 L657.10 639.27 L657.60 639.05 L658.10 638.84 L658.60 638.62 L659.10 638.41 L659.60 638.19 L660.10 637.98 L660.60 637.77 L661.10 637.56 L661.60 637.34 L662.10 637.13 L662.60 636.92 L663.10 636.71 L663.60 636.50 L664.10 636.29 L664.60 636.08 L665.10 635.87 L665.60 635.66 L666.10 635.46 L666.60 635.25 L667.10 635.04 L667.60 634.84 L668.10 634.63 L668.60 634.42 L669.10 634.22 L669.60 634.01 L670.10 633.81 L670.60 633.60 L671.10 633.40 L671.60 633.20 L672.10 632.99 L672.60 632.79 L673.10 632.59 L673.60 632.39 L674.10 632.18 L674.60 631.98 L675.10 631.78 L675.60 631.58 L676.10 631.38 L676.60 631.18 L677.10 630.98 L677.60 630.79 L678.10 630.59 L678.60 630.39 L679.10 630.19 L679.60 629.99 L680.10 629.80 L680.60 629.60 L681.10 629.41 L681.60 629.21 L682.10 629.02 L682.60 628.82 L683.10 628.63 L683.60 628.43 L684.10 628.24 L684.60 628.05 L685.10 627.86 L685.60 627.66 L686.10 627.47 L686.60 627.28 L687.10 627.09 L687.60 626.90 L688.10 626.71 L688.60 626.52 L689.10 626.33 L689.60 626.14 L690.10 625.95 L690.60 625.77 L691.10 625.58 L691.60 625.39 L692.10 625.20 L692.60 625.02 L693.10 624.83 L693.60 624.65 L694.10 624.46 L694.60 624.28 L695.10 624.09 L695.60 623.91 L696.10 623.72 L696.60 623.54 L697.10 623.36 L697.60 623.18 L698.10 622.99 L698.60 622.81 L699.10 622.63 L699.60 622.45 L700.10 622.27 L700.60 622.09 L701.10 621.91 L701.60 621.73 L702.10 621.55 L702.60 621.38 L703.10 621.20 L703.60 621.02 L704.10 620.84 L704.60 620.67 L705.10 620.49 L705.60 620.31 L706.10 620.14 L706.60 619.96 L707.10 619.79 L707.60 619.61 L708.10 619.44 L708.60 619.27 L709.10 619.09 L709.60 618.92 L710.10 618.75 L710.60 618.58 L711.10 618.40 L711.60 618.23 L712.10 618.06 L712.60 617.89 L713.10 617.72 L713.60 617.55 L714.10 617.38 L714.60 617.21 L715.10 617.05 L715.60 616.88 L716.10 616.71 L716.60 616.54 L717.10 616.38 L717.60 616.21 L718.10 616.04 L718.60 615.88 L719.10 615.71 L719.60 615.55 L720.10 615.38 L720.60 615.22 L721.10 615.06 L721.60 614.89 L722.10 614.73 L722.60 614.57 L723.10 614.40 L723.60 614.24 L724.10 614.08 L724.60 613.92 L725.10 613.76 L725.60 613.60 L726.10 613.44 L726.60 613.28 L727.10 613.12 L727.60 612.96 L728.10 612.80 L728.60 612.65 L729.10 612.49 L729.60 612.33 L730.10 612.17 L730.60 612.02 L731.10 611.86 L731.60 611.71 L732.10 611.55 L732.60 611.40 L733.10 611.24 L733.60 611.09 L734.10 610.93 L734.60 610.78 L735.10 610.63 L735.60 610.48 L736.10 610.32 L736.60 610.17 L737.10 610.02 L737.60 609.87 L738.10 609.72 L738.60 609.57 L739.10 609.42 L739.60 609.27 L740.10 609.12 L740.60 608.97 L741.10 608.82 L741.60 608.67 L742.10 608.53 L742.60 608.38 L743.10 608.23 L743.60 608.09 L744.10 607.94 L744.60 607.79 L745.10 607.65 L745.60 607.50 L746.10 607.36 L746.60 607.22 L747.10 607.07 L747.60 606.93 L748.10 606.79 L748.60 606.64 L749.10 606.50 L749.60 606.36 L750.10 606.22 L750.60 606.08 L751.10 605.93 L751.60 605.79 L752.10 605.65 L752.60 605.51 L753.10 605.38 L753.60 605.24 L754.10 605.10 L754.60 604.96 L755.10 604.82 L755.60 604.68 L756.10 604.55 L756.60 604.41 L757.10 604.27 L757.60 604.14 L758.10 604.00 L758.60 603.87 L759.10 603.73 L759.60 603.60 L760.10 603.46 L760.60 603.33 L761.10 603.20 L761.60 603.06 L762.10 602.93 L762.60 602.80 L763.10 602.67 L763.60 602.54 L764.10 602.40 L764.60 602.27 L765.10 602.14 L765.60 602.01 L766.10 601.88 L766.60 601.75 L767.10 601.62 L767.60 601.50 L768.10 601.37 L768.60 601.24 L769.10 601.11 L769.60 600.99 L770.10 600.86 L770.60 600.73 L771.10 600.61 L771.60 600.48 L772.10 600.35 L772.60 600.23 L773.10 600.11 L773.60 599.98 L774.10 599.86 L774.60 599.73 L775.10 599.61 L775.60 599.49 L776.10 599.37 L776.60 599.24 L777.10 599.12 L777.60 599.00 L778.10 598.88 L778.60 598.76 L779.10 598.64 L779.60 598.52 L780.10 598.40 L780.60 598.28 L781.10 598.16 L781.60 598.04 L782.10 597.92 L782.60 597.81 L783.10 597.69 L783.60 597.57 L784.10 597.46 L784.60 597.34 L785.10 597.22 L785.60 597.11 L786.10 596.99 L786.60 596.88 L787.10 596.76 L787.60 596.65 L788.10 596.53 L788.60 596.42 L789.10 596.31 L789.60 596.20 L790.10 596.08 L790.60 595.97 L791.10 595.86 L791.60 595.75 L792.10 595.64 L792.60 595.53 L793.10 595.42" fill="none" stroke="#00ffff" stroke-width="3.60" stroke-linecap="round" stroke-linejoin="round" stroke-dasharray="16.6 18.9 2.4 21.3" stroke-dashoffset="-2.84"/>
<path d="M347.50 932.96 L348.00 932.49 L348.50 932.02 L349.00 931.54 L349.50 931.07 L350.00 930.60 L350.50 930.12 L351.00 929.65 L351.50 929.17 L352.00 928.70 L352.50 928.22 L353.00 927.74 L353.50 927.26 L354.00 926.78 L354.50 926.30 L355.00 925.82 L355.50 925.34 L356.00 924.86 L356.50 924.38 L357.00 923.89 L357.50 923.41 L358.00 922.92 L358.50 922.44 L359.00 921.95 L359.50 921.46 L360.00 920.98 L360.50 920.49 L361.00 920.00 L361.50 919.51 L362.00 919.02 L362.50 918.53 L363.00 918.04 L363.50 917.54 L364.00 917.05 L364.50 916.56 L365.00 916.06 L365.50 915.57 L366.00 915.07 L366.50 914.57 L367.00 914.08 L367.50 913.58 L368.00 913.08 L368.50 912.58 L369.00 912.08 L369.50 911.58 L370.00 911.08 L370.50 910.58 L371.00 910.07 L371.50 909.57 L372.00 909.07 L372.50 908.56 L373.00 908.06 L373.50 907.55 L374.00 907.04 L374.50 906.54 L375.00 906.03 L375.50 905.52 L376.00 905.01 L376.50 904.50 L377.00 903.99 L377.50 903.48 L378.00 902.97 L378.50 902.45 L379.00 901.94 L379.50 901.42 L380.00 900.91 L380.50 900.39 L381.00 899.88 L381.50 899.36 L382.00 898.84 L382.50 898.33 L383.00 897.81 L383.50 897.29 L384.00 896.77 L384.50 896.25 L385.00 895.73 L385.50 895.20 L386.00 894.68 L386.50 894.16 L387.00 893.63 L387.50 893.11 L388.00 892.58 L388.50 892.06 L389.00 891.53 L389.50 891.00 L390.00 890.47 L390.50 889.95 L391.00 889.42 L391.50 888.89 L392.00 888.36 L392.50 887.82 L393.00 887.29 L393.50 886.76 L394.00 886.23 L394.50 885.69 L395.00 885.16 L395.50 884.62 L396.00 884.09 L396.50 883.55 L397.00 883.01 L397.50 882.48 L398.00 881.94 L398.50 881.40 L399.00 880.86 L399.50 880.32 L400.00 879.78 L400.50 879.24 L401.00 878.69 L401.50 878.15 L402.00 877.61 L402.50 877.06 L403.00 876.52 L403.50 875.97 L404.00 875.43 L404.50 874.88 L405.00 874.33 L405.50 873.78 L406.00 873.24 L406.50 872.69 L407.00 872.14 L407.50 871.59 L408.00 871.04 L408.50 870.48 L409.00 869.93 L409.50 869.38 L410.00 868.82 L410.50 868.27 L411.00 867.72 L411.50 867.16 L412.00 866.60 L412.50 866.05 L413.00 865.49 L413.50 864.93 L414.00 864.37 L414.50 863.81 L415.00 863.25 L415.50 862.69 L416.00 862.13 L416.50 861.57 L417.00 861.01 L417.50 860.44 L418.00 859.88 L418.50 859.32 L419.00 858.75 L419.50 858.19 L420.00 857.62 L420.50 857.05 L421.00 856.49 L421.50 855.92 L422.00 855.35 L422.50 854.78 L423.00 854.21 L423.50 853.64 L424.00 853.07 L424.50 852.50 L425.00 851.92 L425.50 851.35 L426.00 850.78 L426.50 850.20 L427.00 849.63 L427.50 849.05 L428.00 848.48 L428.50 847.90 L429.00 847.32 L429.50 846.75 L430.00 846.17 L430.50 845.59 L431.00 845.01 L431.50 844.43 L432.00 843.85 L432.50 843.27 L433.00 842.69 L433.50 842.10 L434.00 841.52 L434.50 840.94 L435.00 840.35 L435.50 839.77 L436.00 839.18 L436.50 838.59 L437.00 838.01 L437.50 837.42 L438.00 836.83 L438.50 836.24 L439.00 835.65 L439.50 835.06 L440.00 834.47 L440.50 833.88 L441.00 833.29 L441.50 832.70 L442.00 832.11 L442.50 831.51 L443.00 830.92 L443.50 830.33 L444.00 829.73 L444.50 829.13 L445.00 828.54 L445.50 827.94 L446.00 827.34 L446.50 826.75 L447.00 826.15 L447.50 825.55 L448.00 824.95 L448.50 824.35 L449.00 823.75 L449.50 823.15 L450.00 822.54 L450.50 821.94 L451.00 821.34 L451.50 820.73 L452.00 820.13 L452.50 819.52 L453.00 818.92 L453.50 818.31 L454.00 817.71 L454.50 817.10 L455.00 816.49 L455.50 815.88 L456.00 815.27 L456.50 814.66 L457.00 814.05 L457.50 813.44 L458.00 812.83 L458.50 812.22 L459.00 811.61 L459.50 811.00 L460.00 810.38 L460.50 809.77 L461.00 809.15 L461.50 808.54 L462.00 807.92 L462.50 807.31 L463.00 806.69 L463.50 806.07 L464.00 805.45 L464.50 804.83 L465.00 804.21 L465.50 803.60 L466.00 802.97 L466.50 802.35 L467.00 801.73 L467.50 801.11 L468.00 800.49 L468.50 799.86 L469.00 799.24 L469.50 798.62 L470.00 797.99 L470.50 797.37 L471.00 796.74 L471.50 796.11 L472.00 795.49 L472.50 794.86 L473.00 794.23 L473.50 793.60 L474.00 792.97 L474.50 792.34 L475.00 791.71 L475.50 791.08 L476.00 790.45 L476.50 789.82 L477.00 789.19 L477.50 788.55 L478.00 787.92 L478.50 787.29 L479.00 786.65 L479.50 786.02 L480.00 785.38 L480.50 784.74 L481.00 784.11 L481.50 783.47 L482.00 782.83 L482.50 782.19 L483.00 781.55 L483.50 780.91 L484.00 780.27 L484.50 779.63 L485.00 778.99 L485.50 778.35 L486.00 777.71 L486.50 777.07 L487.00 776.42 L487.50 775.78 L488.00 775.13 L488.50 774.49 L489.00 773.84 L489.50 773.20 L490.00 772.55 L490.50 771.90 L491.00 771.26 L491.50 770.61 L492.00 769.96 L492.50 769.31 L493.00 768.66 L493.50 768.01 L494.00 767.36 L494.50 766.71 L495.00 766.06 L495.50 765.41 L496.00 764.75 L496.50 764.10 L497.00 763.45 L497.50 762.79 L498.00 762.14 L498.50 761.48 L499.00 760.82 L499.50 760.17 L500.00 759.51 L500.50 758.85 L501.00 758.20 L501.50 757.54 L502.00 756.88 L502.50 756.22 L503.00 755.56 L503.50 754.90 L504.00 754.24 L504.50 753.57 L505.00 752.91 L505.50 752.25 L506.00 751.59 L506.50 750.92 L507.00 750.26 L507.50 749.59 L508.00 748.93 L508.50 748.26 L509.00 747.60 L509.50 746.93 L510.00 746.26 L510.50 745.59 L511.00 744.93 L511.50 744.26 L512.00 743.59 L512.50 742.92 L513.00 742.25 L513.50 741.58 L514.00 740.91 L514.50 740.23 L515.00 739.56 L515.50 738.89 L516.00 738.22 L516.50 737.54 L517.00 736.87 L517.50 736.19 L518.00 735.52 L518.50 734.84 L519.00 734.17 L519.50 733.49 L520.00 732.81 L520.50 732.13 L521.00 731.46 L521.50 730.78 L522.00 730.10 L522.50 729.42 L523.00 728.74 L523.50 728.06 L524.00 727.38 L524.50 726.69 L525.00 726.01 L525.50 725.33 L526.00 724.65 L526.50 723.96 L527.00 723.28 L527.50 722.60 L528.00 721.91 L528.50 721.23 L529.00 720.54 L529.50 719.85 L530.00 719.17 L530.50 718.48 L531.00 717.79 L531.50 717.10 L532.00 716.42 L532.50 715.73 L533.00 715.04 L533.50 714.35 L534.00 713.66 L534.50 712.97 L535.00 712.28 L535.50 711.59 L536.00 710.89 L536.50 710.20 L537.00 709.51 L537.50 708.82 L538.00 708.12 L538.50 707.43 L539.00 706.74 L539.50 706.04 L540.00 705.35 L540.50 704.65 L541.00 703.96 L541.50 703.26 L542.00 702.56 L542.50 701.87 L543.00 701.17 L543.50 700.47 L544.00 699.77 L544.50 699.08 L545.00 698.38 L545.50 697.68 L546.00 696.98 L546.50 696.28 L547.00 695.58 L547.50 694.88 L548.00 694.18 L548.50 693.48 L549.00 692.78 L549.50 692.07 L550.00 691.37 L550.50 690.67 L551.00 689.97 L551.50 689.26 L552.00 688.56 L552.50 687.86 L553.00 687.15 L553.50 686.45 L554.00 685.74 L554.50 685.04 L555.00 684.33 L555.50 683.63 L556.00 682.92 L556.50 682.21 L557.00 681.51 L557.50 680.80 L558.00 680.09 L558.50 679.39 L559.00 678.68 L559.50 677.97 L560.00 677.26 L560.50 676.55 L561.00 675.84 L561.50 675.13 L562.00 674.42 L562.50 673.72 L563.00 673.01 L563.50 672.29 L564.00 671.58 L564.50 670.87 L565.00 670.16 L565.50 669.45 L566.00 668.74 L566.50 668.03 L567.00 667.31 L567.50 666.60 L568.00 665.89 L568.50 665.18 L569.00 664.46 L569.50 663.75 L570.00 663.04 L570.50 662.32 L571.00 661.61 L571.50 660.89 L572.00 660.18 L572.50 659.46 L573.00 658.75 L573.50 658.03 L574.00 657.32 L574.50 656.60 L575.00 655.89 L575.50 655.17 L576.00 654.46 L576.50 653.74 L577.00 653.02 L577.50 652.31 L578.00 651.59 L578.50 650.87 L579.00 650.15 L579.50 649.44 L580.00 648.72 L580.50 648.00 L581.00 647.28 L581.50 646.56 L582.00 645.84 L582.50 645.13 L583.00 644.41 L583.50 643.69 L584.00 642.97 L584.50 642.25 L585.00 641.53 L585.50 640.81 L586.00 640.09 L586.50 639.37 L587.00 638.65 L587.50 637.93 L588.00 637.21 L588.50 636.49 L589.00 635.77 L589.50 635.05 L590.00 634.32 L590.50 633.60 L591.00 632.88 L591.50 632.16 L592.00 631.44 L592.50 630.72 L593.00 630.00 L593.50 629.27 L594.00 628.55 L594.50 627.83 L595.00 627.11 L595.50 626.38 L596.00 625.66 L596.50 624.94 L597.00 624.22 L597.50 623.49 L598.00 622.77 L598.50 622.05 L599.00 621.32 L599.50 620.60 L600.00 619.88 L600.50 619.15 L601.00 618.43 L601.50 617.71 L602.00 616.98 L602.50 616.26 L603.00 615.54 L603.50 614.81 L604.00 614.09 L604.50 613.36 L605.00 612.64 L605.50 611.92 L606.00 611.19 L606.50 610.47 L607.00 609.74 L607.50 609.02 L608.00 608.30 L608.50 607.57 L609.00 606.85 L609.50 606.12 L610.00 605.40 L610.50 604.67 L611.00 603.95 L611.50 603.22 L612.00 602.50 L612.50 601.77 L613.00 601.05 L613.50 600.33 L614.00 599.60 L614.50 598.88 L615.00 598.15 L615.50 597.43 L616.00 596.70 L616.50 595.98 L617.00 595.25 L617.50 594.53 L618.00 593.80 L618.50 593.08 L619.00 592.35 L619.50 591.63 L620.00 590.90 L620.50 590.18 L621.00 589.45 L621.50 588.73 L622.00 588.01 L622.50 587.28 L623.00 586.56 L623.50 585.83 L624.00 585.11 L624.50 584.38 L625.00 583.66 L625.50 582.93 L626.00 582.21 L626.50 581.49 L627.00 580.76 L627.50 580.04 L628.00 579.31 L628.50 578.59 L629.00 577.87 L629.50 577.14 L630.00 576.42 L630.50 575.69 L631.00 574.97 L631.50 574.25 L632.00 573.52 L632.50 572.80 L633.00 572.08 L633.50 571.35 L634.00 570.63 L634.50 569.91 L635.00 569.18 L635.50 568.46 L636.00 567.74 L636.50 567.01 L637.00 566.29 L637.50 565.57 L638.00 564.85 L638.50 564.12 L639.00 563.40 L639.50 562.68 L640.00 561.96 L640.50 561.24 L641.00 560.51 L641.50 559.79 L642.00 559.07 L642.50 558.35 L643.00 557.63 L643.50 556.91 L644.00 556.19 L644.50 555.47 L645.00 554.75 L645.50 554.02 L646.00 553.30 L646.50 552.58 L647.00 551.86 L647.50 551.14 L648.00 550.42 L648.50 549.70 L649.00 548.99 L649.50 548.27 L650.00 547.55 L650.50 546.83 L651.00 546.11 L651.50 545.39 L652.00 544.67 L652.50 543.95 L653.00 543.24 L653.50 542.52 L654.00 541.80 L654.50 541.08 L655.00 540.37 L655.50 539.65 L656.00 538.93 L656.50 538.21 L657.00 537.50 L657.50 536.78 L658.00 536.07 L658.50 535.35 L659.00 534.63 L659.50 533.92 L660.00 533.20 L660.50 532.49 L661.00 531.77 L661.50 531.06 L662.00 530.34 L662.50 529.63 L663.00 528.92 L663.50 528.20 L664.00 527.49 L664.50 526.78 L665.00 526.06 L665.50 525.35" fill="none" stroke="#ff0000" stroke-width="3.80" stroke-linecap="round" stroke-linejoin="round" stroke-dasharray="2.8 19.01" stroke-dashoffset="0.70"/>
<path d="M375.40 16.30 L379.46 16.30 L376.34 30.40 C381.02 28.99 386.94 25.04 391.00 16.58" fill="none" stroke="#000" stroke-width="2.60" stroke-linecap="round" stroke-linejoin="round"/>
<path d="M399.78 29.30 L395.43 43.50 M398.85 36.77 C398.72 39.44 403.00 40.09 404.61 37.49 M407.42 29.30 L406.22 37.29 C405.96 39.50 408.49 39.64 410.10 36.16" fill="none" stroke="#000" stroke-width="2.60" stroke-linecap="round" stroke-linejoin="round"/>
<text transform="translate(412.86 35.71) scale(1.0113 1.0001)" font-family="Liberation Serif" font-weight="normal" font-style="normal" font-size="42.5" fill="#000">+</text>
<text transform="translate(440.14 15.80) scale(1.1385 1.0007)" font-family="Liberation Serif" font-weight="normal" font-style="normal" font-size="24.6" fill="#000">12</text>
<text transform="translate(469.59 31.26) scale(0.9162 1.0008)" font-family="Liberation Serif" font-weight="normal" font-style="normal" font-size="34.8" fill="#000">C</text>
<text transform="translate(486.70 30.43) scale(0.6470 0.9993)" font-family="Liberation Serif" font-weight="normal" font-style="normal" font-size="53.8" fill="#000">→</text>
<path d="M525.00 16.30 L518.50 37.60 M523.60 27.50 C523.41 31.51 529.79 32.49 532.20 28.59 M536.40 16.30 L534.61 28.29 C534.21 31.59 537.99 31.81 540.40 26.59" fill="none" stroke="#000" stroke-width="3.30" stroke-linecap="round" stroke-linejoin="round"/>
<text transform="translate(542.04 24.92) scale(0.6250 0.9999)" font-family="Liberation Serif" font-weight="normal" font-style="normal" font-size="50.2" fill="#000">−</text>
<text transform="translate(562.70 35.29) scale(1.0466 0.9998)" font-family="Liberation Serif" font-weight="normal" font-style="normal" font-size="42.3" fill="#000">+</text>
<text transform="translate(588.04 31.10) scale(0.8678 1.0006)" font-family="Liberation Serif" font-weight="normal" font-style="normal" font-size="34.8" fill="#000">X</text>
<text transform="translate(196.88 141.07) scale(1.1720 0.9988)" font-family="Liberation Serif" font-weight="normal" font-style="normal" font-size="39.2" fill="#000">(</text>
<text transform="translate(211.61 142.70) scale(0.9489 0.9990)" font-family="Liberation Serif" font-weight="bold" font-style="normal" font-size="42.0" fill="#000">A</text>
<text transform="translate(240.62 141.07) scale(1.1720 0.9988)" font-family="Liberation Serif" font-weight="normal" font-style="normal" font-size="39.2" fill="#000">)</text>
<text transform="translate(184.10 575.50) scale(1.1417 1.0006)" font-family="Liberation Serif" font-weight="normal" font-style="normal" font-size="39.9" fill="#000">(</text>
<text transform="translate(198.33 576.68) scale(0.9547 1.0005)" font-family="Liberation Serif" font-weight="bold" font-style="normal" font-size="42.4" fill="#000">B</text>
<text transform="translate(225.57 575.50) scale(1.1124 1.0006)" font-family="Liberation Serif" font-weight="normal" font-style="normal" font-size="39.9" fill="#000">)</text>
<text transform="translate(80.02 474.40) scale(1.2525 1.0010)" font-family="Liberation Serif" font-weight="normal" font-style="normal" font-size="35.3" fill="#000">0.0</text>
<text transform="translate(79.75 401.36) scale(1.2528 0.9997)" font-family="Liberation Serif" font-weight="normal" font-style="normal" font-size="35.5" fill="#000">2.5</text>
<text transform="translate(79.09 328.33) scale(1.2743 1.0010)" font-family="Liberation Serif" font-weight="normal" font-style="normal" font-size="35.3" fill="#000">5.0</text>
<text transform="translate(78.71 255.28) scale(1.2626 0.9994)" font-family="Liberation Serif" font-weight="normal" font-style="normal" font-size="35.9" fill="#000">7.5</text>
<text transform="translate(60.76 182.26) scale(1.2053 1.0010)" font-family="Liberation Serif" font-weight="normal" font-style="normal" font-size="35.3" fill="#000">10.0</text>
<text transform="translate(60.76 109.22) scale(1.1993 0.9997)" font-family="Liberation Serif" font-weight="normal" font-style="normal" font-size="35.5" fill="#000">12.5</text>
<text transform="translate(122.45 505.00) scale(1.1981 1.0012)" font-family="Liberation Serif" font-weight="normal" font-style="normal" font-size="35.0" fill="#000">0.1</text>
<text transform="translate(205.77 505.00) scale(1.2473 1.0012)" font-family="Liberation Serif" font-weight="normal" font-style="normal" font-size="35.0" fill="#000">0.2</text>
<text transform="translate(317.48 505.00) scale(1.2302 1.0012)" font-family="Liberation Serif" font-weight="normal" font-style="normal" font-size="35.0" fill="#000">0.5</text>
<text transform="translate(399.66 505.00) scale(1.2837 1.0012)" font-family="Liberation Serif" font-weight="normal" font-style="normal" font-size="35.0" fill="#000">1.0</text>
<text transform="translate(486.19 505.00) scale(1.2354 1.0012)" font-family="Liberation Serif" font-weight="normal" font-style="normal" font-size="35.0" fill="#000">2.0</text>
<text transform="translate(597.23 505.00) scale(1.2505 1.0012)" font-family="Liberation Serif" font-weight="normal" font-style="normal" font-size="35.0" fill="#000">5.0</text>
<text transform="translate(671.78 505.00) scale(1.1981 1.0012)" font-family="Liberation Serif" font-weight="normal" font-style="normal" font-size="35.0" fill="#000">10.0</text>
<text transform="translate(758.16 505.00) scale(1.1665 1.0012)" font-family="Liberation Serif" font-weight="normal" font-style="normal" font-size="35.0" fill="#000">20.0</text>
<text transform="translate(113.45 947.65) scale(1.1993 0.9989)" font-family="Liberation Serif" font-weight="normal" font-style="normal" font-size="36.2" fill="#000">0</text>
<text transform="translate(113.08 845.95) scale(1.2439 0.9987)" font-family="Liberation Serif" font-weight="normal" font-style="normal" font-size="36.9" fill="#000">2</text>
<text transform="translate(114.33 743.90) scale(1.0669 0.9992)" font-family="Liberation Serif" font-weight="normal" font-style="normal" font-size="37.1" fill="#000">4</text>
<text transform="translate(113.25 641.50) scale(1.1864 1.0004)" font-family="Liberation Serif" font-weight="normal" font-style="normal" font-size="36.3" fill="#000">6</text>
<text transform="translate(113.45 539.45) scale(1.1993 0.9989)" font-family="Liberation Serif" font-weight="normal" font-style="normal" font-size="36.2" fill="#000">8</text>
<text transform="translate(121.15 978.01) scale(1.2400 0.9998)" font-family="Liberation Serif" font-weight="normal" font-style="normal" font-size="34.9" fill="#000">0.0</text>
<text transform="translate(282.60 978.01) scale(1.2411 0.9998)" font-family="Liberation Serif" font-weight="normal" font-style="normal" font-size="34.9" fill="#000">0.5</text>
<text transform="translate(443.64 978.01) scale(1.2109 0.9998)" font-family="Liberation Serif" font-weight="normal" font-style="normal" font-size="34.9" fill="#000">1.0</text>
<text transform="translate(605.08 978.00) scale(1.2050 1.0013)" font-family="Liberation Serif" font-weight="normal" font-style="normal" font-size="35.1" fill="#000">1.5</text>
<text transform="translate(766.69 978.01) scale(1.2463 0.9998)" font-family="Liberation Serif" font-weight="normal" font-style="normal" font-size="34.9" fill="#000">2.0</text>
<text transform="translate(393.14 1019.00) scale(1.0230 1.0012)" font-family="Liberation Serif" font-weight="normal" font-style="normal" font-size="36.0" fill="#000">E</text>
<path d="M418.50 1017.20 L421.54 1017.20 L419.20 1029.50 C422.71 1028.27 427.16 1024.83 430.20 1017.45" fill="none" stroke="#000" stroke-width="2.60" stroke-linecap="round" stroke-linejoin="round"/>
<text transform="translate(450.07 1020.40) scale(0.8486 0.9995)" font-family="Liberation Serif" font-weight="normal" font-style="normal" font-size="43.4" fill="#000">[</text>
<text transform="translate(465.90 1019.15) scale(0.8829 0.9992)" font-family="Liberation Serif" font-weight="normal" font-style="normal" font-size="35.9" fill="#000">G</text>
<text transform="translate(487.84 1019.16) scale(1.1392 1.0011)" font-family="Liberation Serif" font-weight="normal" font-style="normal" font-size="35.1" fill="#000">e</text>
<text transform="translate(504.82 1018.96) scale(0.9409 0.9993)" font-family="Liberation Serif" font-weight="normal" font-style="normal" font-size="36.0" fill="#000">V</text>
<text transform="translate(534.77 1020.40) scale(0.8486 0.9995)" font-family="Liberation Serif" font-weight="normal" font-style="normal" font-size="43.4" fill="#000">]</text>
<ellipse cx="25.55" cy="464.25" rx="7.27" ry="5.23" transform="rotate(25 25.55 464.25)" fill="none" stroke="#000" stroke-width="2.9"/>
<line x1="18.30" y1="452.90" x2="18.30" y2="462.00" stroke="#000" stroke-width="2.90" stroke-linecap="round"/>
<line x1="6.40" y1="429.20" x2="40.80" y2="449.00" stroke="#000" stroke-width="2.30" stroke-linecap="round"/>
<text transform="rotate(-90) translate(-426.71 34.00) scale(0.9271 0.9993)" font-family="Liberation Serif" font-weight="normal" font-style="normal" font-size="37.9" fill="#000">E</text>
<path d="M-401.30 31.30 L-398.49 31.30 L-400.65 42.10 C-397.41 41.02 -393.31 38.00 -390.50 31.52" fill="none" stroke="#000" stroke-width="2.40" stroke-linecap="round" stroke-linejoin="round" transform="rotate(-90)"/>
<text transform="rotate(-90) translate(-370.40 35.87) scale(1.0341 1.0010)" font-family="Liberation Serif" font-weight="normal" font-style="normal" font-size="44.3" fill="#000">[</text>
<text transform="rotate(-90) translate(-352.05 33.90) scale(0.8752 0.9989)" font-family="Liberation Serif" font-weight="normal" font-style="normal" font-size="37.0" fill="#000">1</text>
<text transform="rotate(-90) translate(-333.04 33.83) scale(1.0759 0.9998)" font-family="Liberation Serif" font-weight="normal" font-style="normal" font-size="37.5" fill="#000">0</text>
<text transform="rotate(-90) translate(-310.33 21.82) scale(0.8573 1.0013)" font-family="Liberation Serif" font-weight="normal" font-style="normal" font-size="38.1" fill="#000">−</text>
<text transform="rotate(-90) translate(-292.42 16.27) scale(1.2609 0.9984)" font-family="Liberation Serif" font-weight="normal" font-style="normal" font-size="23.6" fill="#000">38</text>
<text transform="rotate(-90) translate(-244.09 33.94) scale(1.2029 1.0000)" font-family="Liberation Serif" font-weight="normal" font-style="normal" font-size="36.8" fill="#000">c</text>
<text transform="rotate(-90) translate(-223.54 34.30) scale(1.1913 0.9991)" font-family="Liberation Serif" font-weight="normal" font-style="normal" font-size="37.6" fill="#000">m</text>
<text transform="rotate(-90) translate(-187.60 17.10) scale(1.2721 0.9989)" font-family="Liberation Serif" font-weight="normal" font-style="normal" font-size="25.1" fill="#000">2</text>
<line x1="6.00" y1="149.10" x2="40.70" y2="168.10" stroke="#000" stroke-width="2.30" stroke-linecap="round"/>
<text transform="rotate(-90) translate(-147.05 33.73) scale(0.7469 0.9988)" font-family="Liberation Serif" font-weight="normal" font-style="normal" font-size="37.7" fill="#000">G</text>
<text transform="rotate(-90) translate(-122.44 33.74) scale(1.2114 1.0000)" font-family="Liberation Serif" font-weight="normal" font-style="normal" font-size="36.8" fill="#000">e</text>
<text transform="rotate(-90) translate(-102.02 33.53) scale(0.7637 0.9991)" font-family="Liberation Serif" font-weight="normal" font-style="normal" font-size="37.8" fill="#000">V</text>
<text transform="rotate(-90) translate(-79.14 35.78) scale(0.9023 0.9996)" font-family="Liberation Serif" font-weight="normal" font-style="normal" font-size="44.3" fill="#000">]</text>
<ellipse cx="40.2" cy="850.2" rx="7.5" ry="5.3" transform="rotate(25 40.2 850.2)" fill="none" stroke="#000" stroke-width="2.9"/>
<line x1="33.30" y1="839.60" x2="33.30" y2="848.00" stroke="#000" stroke-width="2.90" stroke-linecap="round"/>
<text transform="rotate(-90) translate(-820.27 50.89) scale(0.9803 1.0011)" font-family="Liberation Serif" font-weight="normal" font-style="normal" font-size="44.9" fill="#000">[</text>
<text transform="rotate(-90) translate(-802.42 49.60) scale(0.8839 0.9991)" font-family="Liberation Serif" font-weight="normal" font-style="normal" font-size="37.6" fill="#000">1</text>
<text transform="rotate(-90) translate(-782.87 49.23) scale(1.0923 0.9997)" font-family="Liberation Serif" font-weight="normal" font-style="normal" font-size="37.8" fill="#000">0</text>
<text transform="rotate(-90) translate(-759.71 39.07) scale(0.6855 0.9994)" font-family="Liberation Serif" font-weight="normal" font-style="normal" font-size="44.2" fill="#000">−</text>
<text transform="rotate(-90) translate(-743.65 31.16) scale(1.2170 0.9998)" font-family="Liberation Serif" font-weight="normal" font-style="normal" font-size="24.9" fill="#000">38</text>
<text transform="rotate(-90) translate(-693.54 49.23) scale(1.1358 1.0011)" font-family="Liberation Serif" font-weight="normal" font-style="normal" font-size="37.8" fill="#000">c</text>
<text transform="rotate(-90) translate(-673.13 49.60) scale(1.1464 1.0007)" font-family="Liberation Serif" font-weight="normal" font-style="normal" font-size="38.6" fill="#000">m</text>
<text transform="rotate(-90) translate(-636.97 31.40) scale(1.1392 0.9990)" font-family="Liberation Serif" font-weight="normal" font-style="normal" font-size="25.4" fill="#000">2</text>
<text transform="rotate(-90) translate(-620.62 50.89) scale(1.0003 1.0011)" font-family="Liberation Serif" font-weight="normal" font-style="normal" font-size="44.9" fill="#000">]</text>
</svg></body></html>
